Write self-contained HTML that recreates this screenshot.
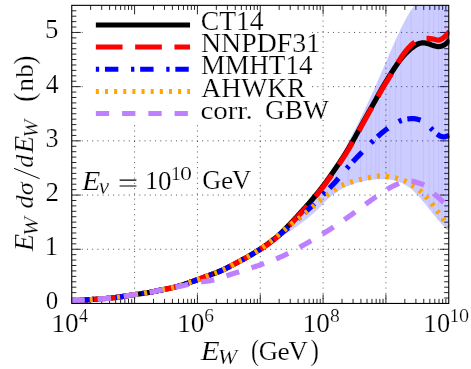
<!DOCTYPE html>
<html><head><meta charset="utf-8"><title>chart</title>
<style>html,body{margin:0;padding:0;background:#fff;}svg{display:block;will-change:transform;}text{fill:#000;stroke:#fff;stroke-width:0.22px;}</style>
</head><body>
<svg width="471" height="369" viewBox="0 0 471 369">
<rect width="471" height="369" fill="#fff"/>
<defs><clipPath id="cp"><rect x="71.75" y="5.35" width="377.80" height="298.10"/></clipPath></defs>
<g stroke="#000" stroke-opacity="0.68" stroke-width="1" stroke-dasharray="1 4.236" stroke-dashoffset="0.5"><line x1="134.58" y1="5.35" x2="134.58" y2="303.45"/><line x1="197.42" y1="5.35" x2="197.42" y2="303.45"/><line x1="260.25" y1="5.35" x2="260.25" y2="303.45"/><line x1="323.08" y1="5.35" x2="323.08" y2="303.45"/><line x1="385.92" y1="5.35" x2="385.92" y2="303.45"/><line x1="71.75" y1="249.25" x2="448.75" y2="249.25"/><line x1="71.75" y1="195.05" x2="448.75" y2="195.05"/><line x1="71.75" y1="140.85" x2="448.75" y2="140.85"/><line x1="71.75" y1="86.65" x2="448.75" y2="86.65"/><line x1="71.75" y1="32.45" x2="448.75" y2="32.45"/></g>
<rect x="84" y="5.35" width="227.3" height="118.25" fill="#fff"/>
<path d="M90.66 303.45v-4.60M90.66 5.35v4.60M101.73 303.45v-4.60M101.73 5.35v4.60M109.58 303.45v-4.60M109.58 5.35v4.60M115.67 303.45v-4.60M115.67 5.35v4.60M120.64 303.45v-4.60M120.64 5.35v4.60M124.85 303.45v-4.60M124.85 5.35v4.60M128.49 303.45v-4.60M128.49 5.35v4.60M131.71 303.45v-4.60M131.71 5.35v4.60M134.58 303.45v-9.00M134.58 5.35v9.00M153.50 303.45v-4.60M153.50 5.35v4.60M164.56 303.45v-4.60M164.56 5.35v4.60M172.41 303.45v-4.60M172.41 5.35v4.60M178.50 303.45v-4.60M178.50 5.35v4.60M183.48 303.45v-4.60M183.48 5.35v4.60M187.68 303.45v-4.60M187.68 5.35v4.60M191.33 303.45v-4.60M191.33 5.35v4.60M194.54 303.45v-4.60M194.54 5.35v4.60M197.42 303.45v-9.00M197.42 5.35v9.00M216.33 303.45v-4.60M216.33 5.35v4.60M227.40 303.45v-4.60M227.40 5.35v4.60M235.25 303.45v-4.60M235.25 5.35v4.60M241.34 303.45v-4.60M241.34 5.35v4.60M246.31 303.45v-4.60M246.31 5.35v4.60M250.52 303.45v-4.60M250.52 5.35v4.60M254.16 303.45v-4.60M254.16 5.35v4.60M257.37 303.45v-4.60M257.37 5.35v4.60M260.25 303.45v-9.00M260.25 5.35v9.00M279.16 303.45v-4.60M279.16 5.35v4.60M290.23 303.45v-4.60M290.23 5.35v4.60M298.08 303.45v-4.60M298.08 5.35v4.60M304.17 303.45v-4.60M304.17 5.35v4.60M309.14 303.45v-4.60M309.14 5.35v4.60M313.35 303.45v-4.60M313.35 5.35v4.60M316.99 303.45v-4.60M316.99 5.35v4.60M320.21 303.45v-4.60M320.21 5.35v4.60M323.08 303.45v-9.00M323.08 5.35v9.00M342.00 303.45v-4.60M342.00 5.35v4.60M353.06 303.45v-4.60M353.06 5.35v4.60M360.91 303.45v-4.60M360.91 5.35v4.60M367.00 303.45v-4.60M367.00 5.35v4.60M371.98 303.45v-4.60M371.98 5.35v4.60M376.18 303.45v-4.60M376.18 5.35v4.60M379.83 303.45v-4.60M379.83 5.35v4.60M383.04 303.45v-4.60M383.04 5.35v4.60M385.92 303.45v-9.00M385.92 5.35v9.00M404.83 303.45v-4.60M404.83 5.35v4.60M415.90 303.45v-4.60M415.90 5.35v4.60M423.75 303.45v-4.60M423.75 5.35v4.60M429.84 303.45v-4.60M429.84 5.35v4.60M434.81 303.45v-4.60M434.81 5.35v4.60M439.02 303.45v-4.60M439.02 5.35v4.60M442.66 303.45v-4.60M442.66 5.35v4.60M445.87 303.45v-4.60M445.87 5.35v4.60M71.75 298.03h4.60M448.75 298.03h-4.60M71.75 292.61h4.60M448.75 292.61h-4.60M71.75 287.19h4.60M448.75 287.19h-4.60M71.75 281.77h4.60M448.75 281.77h-4.60M71.75 276.35h4.60M448.75 276.35h-4.60M71.75 270.93h4.60M448.75 270.93h-4.60M71.75 265.51h4.60M448.75 265.51h-4.60M71.75 260.09h4.60M448.75 260.09h-4.60M71.75 254.67h4.60M448.75 254.67h-4.60M71.75 249.25h9.00M448.75 249.25h-9.00M71.75 243.83h4.60M448.75 243.83h-4.60M71.75 238.41h4.60M448.75 238.41h-4.60M71.75 232.99h4.60M448.75 232.99h-4.60M71.75 227.57h4.60M448.75 227.57h-4.60M71.75 222.15h4.60M448.75 222.15h-4.60M71.75 216.73h4.60M448.75 216.73h-4.60M71.75 211.31h4.60M448.75 211.31h-4.60M71.75 205.89h4.60M448.75 205.89h-4.60M71.75 200.47h4.60M448.75 200.47h-4.60M71.75 195.05h9.00M448.75 195.05h-9.00M71.75 189.63h4.60M448.75 189.63h-4.60M71.75 184.21h4.60M448.75 184.21h-4.60M71.75 178.79h4.60M448.75 178.79h-4.60M71.75 173.37h4.60M448.75 173.37h-4.60M71.75 167.95h4.60M448.75 167.95h-4.60M71.75 162.53h4.60M448.75 162.53h-4.60M71.75 157.11h4.60M448.75 157.11h-4.60M71.75 151.69h4.60M448.75 151.69h-4.60M71.75 146.27h4.60M448.75 146.27h-4.60M71.75 140.85h9.00M448.75 140.85h-9.00M71.75 135.43h4.60M448.75 135.43h-4.60M71.75 130.01h4.60M448.75 130.01h-4.60M71.75 124.59h4.60M448.75 124.59h-4.60M71.75 119.17h4.60M448.75 119.17h-4.60M71.75 113.75h4.60M448.75 113.75h-4.60M71.75 108.33h4.60M448.75 108.33h-4.60M71.75 102.91h4.60M448.75 102.91h-4.60M71.75 97.49h4.60M448.75 97.49h-4.60M71.75 92.07h4.60M448.75 92.07h-4.60M71.75 86.65h9.00M448.75 86.65h-9.00M71.75 81.23h4.60M448.75 81.23h-4.60M71.75 75.81h4.60M448.75 75.81h-4.60M71.75 70.39h4.60M448.75 70.39h-4.60M71.75 64.97h4.60M448.75 64.97h-4.60M71.75 59.55h4.60M448.75 59.55h-4.60M71.75 54.13h4.60M448.75 54.13h-4.60M71.75 48.71h4.60M448.75 48.71h-4.60M71.75 43.29h4.60M448.75 43.29h-4.60M71.75 37.87h4.60M448.75 37.87h-4.60M71.75 32.45h9.00M448.75 32.45h-9.00M71.75 27.03h4.60M448.75 27.03h-4.60M71.75 21.61h4.60M448.75 21.61h-4.60M71.75 16.19h4.60M448.75 16.19h-4.60M71.75 10.77h4.60M448.75 10.77h-4.60" stroke="#000" stroke-width="0.85" fill="none"/>
<g clip-path="url(#cp)">
<path d="M71.50 300.80 L72.66 300.73 L73.81 300.66 L74.97 300.59 L76.12 300.52 L77.28 300.45 L78.43 300.37 L79.59 300.30 L80.74 300.22 L81.90 300.15 L83.06 300.07 L84.21 300.00 L85.37 299.92 L86.52 299.84 L87.68 299.76 L88.83 299.68 L89.99 299.60 L91.14 299.52 L92.30 299.44 L93.45 299.36 L94.61 299.28 L95.77 299.21 L96.92 299.13 L98.08 299.05 L99.23 298.97 L100.39 298.88 L101.54 298.80 L102.70 298.71 L103.85 298.63 L105.01 298.53 L106.17 298.44 L107.32 298.34 L108.48 298.24 L109.63 298.13 L110.79 298.02 L111.94 297.90 L113.10 297.78 L114.25 297.64 L115.41 297.50 L116.57 297.34 L117.72 297.19 L118.88 297.02 L120.03 296.85 L121.19 296.68 L122.34 296.50 L123.50 296.32 L124.65 296.14 L125.81 295.96 L126.96 295.77 L128.12 295.59 L129.28 295.40 L130.43 295.22 L131.59 295.04 L132.74 294.86 L133.90 294.69 L135.05 294.52 L136.21 294.35 L137.36 294.19 L138.52 294.03 L139.68 293.87 L140.83 293.71 L141.99 293.55 L143.14 293.39 L144.30 293.22 L145.45 293.05 L146.61 292.87 L147.76 292.68 L148.92 292.49 L150.08 292.29 L151.23 292.06 L152.39 291.82 L153.54 291.57 L154.70 291.31 L155.85 291.05 L157.01 290.80 L158.16 290.56 L159.32 290.33 L160.47 290.10 L161.63 289.88 L162.79 289.66 L163.94 289.44 L165.10 289.22 L166.25 289.00 L167.41 288.77 L168.56 288.54 L169.72 288.30 L170.87 288.05 L172.03 287.79 L173.19 287.52 L174.34 287.24 L175.50 286.94 L176.65 286.63 L177.81 286.31 L178.96 285.97 L180.12 285.62 L181.27 285.27 L182.43 284.90 L183.59 284.53 L184.74 284.14 L185.90 283.75 L187.05 283.36 L188.21 282.96 L189.36 282.55 L190.52 282.15 L191.67 281.74 L192.83 281.33 L193.98 280.92 L195.14 280.50 L196.30 280.09 L197.45 279.69 L198.61 279.28 L199.76 278.86 L200.92 278.44 L202.07 278.01 L203.23 277.57 L204.38 277.14 L205.54 276.70 L206.70 276.26 L207.85 275.82 L209.01 275.38 L210.16 274.94 L211.32 274.51 L212.47 274.09 L213.63 273.67 L214.78 273.24 L215.94 272.81 L217.10 272.38 L218.25 271.92 L219.41 271.45 L220.56 270.96 L221.72 270.45 L222.87 269.92 L224.03 269.37 L225.18 268.81 L226.34 268.24 L227.49 267.66 L228.65 267.07 L229.81 266.47 L230.96 265.87 L232.12 265.26 L233.27 264.64 L234.43 264.03 L235.58 263.41 L236.74 262.79 L237.89 262.17 L239.05 261.55 L240.21 260.93 L241.36 260.30 L242.52 259.67 L243.67 259.04 L244.83 258.40 L245.98 257.76 L247.14 257.11 L248.29 256.45 L249.45 255.79 L250.61 255.11 L251.76 254.43 L252.92 253.75 L254.07 253.05 L255.23 252.34 L256.38 251.62 L257.54 250.89 L258.69 250.15 L259.85 249.40 L261.01 248.63 L262.16 247.86 L263.32 247.06 L264.47 246.26 L265.63 245.44 L266.78 244.61 L267.94 243.77 L269.09 242.91 L270.25 242.03 L271.40 241.14 L272.56 240.24 L273.72 239.32 L274.87 238.38 L276.03 237.43 L277.18 236.46 L278.34 235.47 L279.49 234.45 L280.65 233.39 L281.80 232.30 L282.96 231.18 L284.12 230.03 L285.27 228.86 L286.43 227.68 L287.58 226.50 L288.74 225.30 L289.89 224.11 L291.05 222.91 L292.20 221.70 L293.36 220.48 L294.52 219.25 L295.67 218.00 L296.83 216.74 L297.98 215.47 L299.14 214.19 L300.29 212.90 L301.45 211.60 L302.60 210.29 L303.76 208.98 L304.91 207.66 L306.07 206.32 L307.23 204.98 L308.38 203.62 L309.54 202.24 L310.69 200.85 L311.85 199.43 L313.00 198.00 L314.16 196.56 L315.31 195.10 L316.47 193.62 L317.63 192.12 L318.78 190.60 L319.94 189.06 L321.09 187.50 L322.25 185.91 L323.40 184.30 L324.56 182.66 L325.71 181.00 L326.87 179.33 L328.03 177.62 L329.18 175.90 L330.34 174.15 L331.49 172.37 L332.65 170.57 L333.80 168.75 L334.96 166.89 L336.11 165.01 L337.27 163.08 L338.42 161.11 L339.58 159.10 L340.74 157.05 L341.89 154.94 L343.05 152.78 L344.20 150.52 L345.36 148.19 L346.51 145.83 L347.67 143.47 L348.82 141.14 L349.98 138.88 L351.14 136.64 L352.29 134.43 L353.45 132.22 L354.60 130.02 L355.76 127.79 L356.91 125.55 L358.07 123.26 L359.22 120.94 L360.38 118.59 L361.54 116.22 L362.69 113.82 L363.85 111.41 L365.00 108.98 L366.16 106.54 L367.31 104.09 L368.47 101.62 L369.62 99.13 L370.78 96.62 L371.93 94.09 L373.09 91.54 L374.25 88.96 L375.40 86.36 L376.56 83.74 L377.71 81.10 L378.87 78.45 L380.02 75.79 L381.18 73.10 L382.33 70.38 L383.49 67.66 L384.65 64.94 L385.80 62.23 L386.96 59.54 L388.11 56.86 L389.27 54.18 L390.42 51.52 L391.58 48.88 L392.73 46.28 L393.89 43.69 L395.05 41.13 L396.20 38.59 L397.36 36.09 L398.51 33.63 L399.67 31.20 L400.82 28.76 L401.98 26.34 L403.13 23.95 L404.29 21.64 L405.44 19.44 L406.60 17.37 L407.76 15.43 L408.91 13.56 L410.07 11.77 L411.22 10.05 L412.38 8.40 L413.53 6.81 L414.69 5.27 L415.84 3.83 L417.00 2.50 L448.75 3.35 L448.75 231.50 L449.00 231.50 L447.74 230.39 L446.47 229.18 L445.21 227.90 L443.95 226.57 L442.69 225.19 L441.42 223.77 L440.16 222.33 L438.90 220.87 L437.64 219.39 L436.37 217.90 L435.11 216.37 L433.85 214.80 L432.59 213.21 L431.32 211.62 L430.06 210.02 L428.80 208.45 L427.54 206.90 L426.27 205.35 L425.01 203.79 L423.75 202.23 L422.49 200.69 L421.22 199.18 L419.96 197.73 L418.70 196.34 L417.44 195.02 L416.17 193.71 L414.91 192.42 L413.65 191.17 L412.39 189.98 L411.12 188.87 L409.86 187.86 L408.60 186.96 L407.34 186.16 L406.07 185.40 L404.81 184.67 L403.55 183.99 L402.29 183.35 L401.02 182.76 L399.76 182.22 L398.50 181.74 L397.24 181.30 L395.97 180.92 L394.71 180.54 L393.45 180.20 L392.19 179.92 L390.92 179.70 L389.66 179.57 L388.40 179.48 L387.14 179.39 L385.87 179.32 L384.61 179.26 L383.35 179.22 L382.09 179.20 L380.82 179.20 L379.56 179.23 L378.30 179.28 L377.04 179.36 L375.77 179.45 L374.51 179.55 L373.25 179.67 L371.98 179.80 L370.72 179.93 L369.46 180.06 L368.20 180.23 L366.93 180.43 L365.67 180.66 L364.41 180.91 L363.15 181.19 L361.88 181.49 L360.62 181.80 L359.36 182.13 L358.10 182.45 L356.83 182.80 L355.57 183.18 L354.31 183.58 L353.05 184.01 L351.78 184.46 L350.52 184.94 L349.26 185.44 L348.00 185.96 L346.73 186.51 L345.47 187.08 L344.21 187.69 L342.95 188.34 L341.68 189.04 L340.42 189.76 L339.16 190.52 L337.90 191.32 L336.63 192.14 L335.37 193.00 L334.11 193.88 L332.85 194.79 L331.58 195.75 L330.32 196.80 L329.06 197.92 L327.80 199.11 L326.53 200.35 L325.27 201.62 L324.01 202.93 L322.75 204.25 L321.48 205.58 L320.22 206.90 L318.96 208.20 L317.70 209.47 L316.43 210.70 L315.17 211.88 L313.91 212.99 L312.65 214.06 L311.38 215.12 L310.12 216.16 L308.86 217.19 L307.60 218.21 L306.33 219.22 L305.07 220.21 L303.81 221.19 L302.55 222.16 L301.28 223.12 L300.02 224.06 L298.76 225.00 L297.49 225.92 L296.23 226.84 L294.97 227.74 L293.71 228.63 L292.44 229.51 L291.18 230.38 L289.92 231.24 L288.66 232.10 L287.39 232.94 L286.13 233.76 L284.87 234.57 L283.61 235.38 L282.34 236.17 L281.08 236.95 L279.82 237.72 L278.56 238.48 L277.29 239.24 L276.03 239.99 L274.77 240.73 L273.51 241.47 L272.24 242.21 L270.98 242.94 L269.72 243.67 L268.46 244.40 L267.19 245.12 L265.93 245.85 L264.67 246.58 L263.41 247.31 L262.14 248.04 L260.88 248.78 L259.62 249.52 L258.36 250.27 L257.09 251.02 L255.83 251.77 L254.57 252.52 L253.31 253.27 L252.04 254.02 L250.78 254.76 L249.52 255.51 L248.26 256.25 L246.99 256.99 L245.73 257.73 L244.47 258.46 L243.21 259.18 L241.94 259.90 L240.68 260.62 L239.42 261.32 L238.16 262.02 L236.89 262.71 L235.63 263.38 L234.37 264.06 L233.11 264.73 L231.84 265.40 L230.58 266.07 L229.32 266.73 L228.06 267.38 L226.79 268.02 L225.53 268.64 L224.27 269.26 L223.01 269.85 L221.74 270.43 L220.48 270.99 L219.22 271.53 L217.95 272.04 L216.69 272.53 L215.43 273.00 L214.17 273.47 L212.90 273.93 L211.64 274.39 L210.38 274.86 L209.12 275.33 L207.85 275.81 L206.59 276.30 L205.33 276.78 L204.07 277.26 L202.80 277.74 L201.54 278.21 L200.28 278.67 L199.02 279.13 L197.75 279.58 L196.49 280.03 L195.23 280.47 L193.97 280.92 L192.70 281.37 L191.44 281.82 L190.18 282.27 L188.92 282.71 L187.65 283.15 L186.39 283.59 L185.13 284.01 L183.87 284.43 L182.60 284.84 L181.34 285.25 L180.08 285.64 L178.82 286.01 L177.55 286.38 L176.29 286.73 L175.03 287.06 L173.77 287.38 L172.50 287.68 L171.24 287.97 L169.98 288.24 L168.72 288.51 L167.45 288.76 L166.19 289.01 L164.93 289.25 L163.67 289.49 L162.40 289.73 L161.14 289.97 L159.88 290.22 L158.62 290.47 L157.35 290.73 L156.09 291.00 L154.83 291.28 L153.57 291.56 L152.30 291.84 L151.04 292.10 L149.78 292.34 L148.52 292.56 L147.25 292.77 L145.99 292.96 L144.73 293.16 L143.46 293.34 L142.20 293.52 L140.94 293.70 L139.68 293.87 L138.41 294.05 L137.15 294.22 L135.89 294.40 L134.63 294.58 L133.36 294.77 L132.10 294.96 L130.84 295.16 L129.58 295.36 L128.31 295.56 L127.05 295.76 L125.79 295.96 L124.53 296.16 L123.26 296.36 L122.00 296.56 L120.74 296.75 L119.48 296.93 L118.21 297.12 L116.95 297.29 L115.69 297.46 L114.43 297.62 L113.16 297.77 L111.90 297.91 L110.64 298.04 L109.38 298.16 L108.11 298.27 L106.85 298.38 L105.59 298.49 L104.33 298.59 L103.06 298.69 L101.80 298.78 L100.54 298.87 L99.28 298.96 L98.01 299.05 L96.75 299.14 L95.49 299.22 L94.23 299.31 L92.96 299.40 L91.70 299.48 L90.44 299.57 L89.18 299.66 L87.91 299.74 L86.65 299.83 L85.39 299.92 L84.13 300.00 L82.86 300.09 L81.60 300.17 L80.34 300.25 L79.08 300.33 L77.81 300.41 L76.55 300.49 L75.29 300.57 L74.03 300.65 L72.76 300.72 L71.50 300.80Z" fill="#0000ff" fill-opacity="0.2"/>
<clipPath id="bp"><path d="M71.50 300.80 L72.66 300.73 L73.81 300.66 L74.97 300.59 L76.12 300.52 L77.28 300.45 L78.43 300.37 L79.59 300.30 L80.74 300.22 L81.90 300.15 L83.06 300.07 L84.21 300.00 L85.37 299.92 L86.52 299.84 L87.68 299.76 L88.83 299.68 L89.99 299.60 L91.14 299.52 L92.30 299.44 L93.45 299.36 L94.61 299.28 L95.77 299.21 L96.92 299.13 L98.08 299.05 L99.23 298.97 L100.39 298.88 L101.54 298.80 L102.70 298.71 L103.85 298.63 L105.01 298.53 L106.17 298.44 L107.32 298.34 L108.48 298.24 L109.63 298.13 L110.79 298.02 L111.94 297.90 L113.10 297.78 L114.25 297.64 L115.41 297.50 L116.57 297.34 L117.72 297.19 L118.88 297.02 L120.03 296.85 L121.19 296.68 L122.34 296.50 L123.50 296.32 L124.65 296.14 L125.81 295.96 L126.96 295.77 L128.12 295.59 L129.28 295.40 L130.43 295.22 L131.59 295.04 L132.74 294.86 L133.90 294.69 L135.05 294.52 L136.21 294.35 L137.36 294.19 L138.52 294.03 L139.68 293.87 L140.83 293.71 L141.99 293.55 L143.14 293.39 L144.30 293.22 L145.45 293.05 L146.61 292.87 L147.76 292.68 L148.92 292.49 L150.08 292.29 L151.23 292.06 L152.39 291.82 L153.54 291.57 L154.70 291.31 L155.85 291.05 L157.01 290.80 L158.16 290.56 L159.32 290.33 L160.47 290.10 L161.63 289.88 L162.79 289.66 L163.94 289.44 L165.10 289.22 L166.25 289.00 L167.41 288.77 L168.56 288.54 L169.72 288.30 L170.87 288.05 L172.03 287.79 L173.19 287.52 L174.34 287.24 L175.50 286.94 L176.65 286.63 L177.81 286.31 L178.96 285.97 L180.12 285.62 L181.27 285.27 L182.43 284.90 L183.59 284.53 L184.74 284.14 L185.90 283.75 L187.05 283.36 L188.21 282.96 L189.36 282.55 L190.52 282.15 L191.67 281.74 L192.83 281.33 L193.98 280.92 L195.14 280.50 L196.30 280.09 L197.45 279.69 L198.61 279.28 L199.76 278.86 L200.92 278.44 L202.07 278.01 L203.23 277.57 L204.38 277.14 L205.54 276.70 L206.70 276.26 L207.85 275.82 L209.01 275.38 L210.16 274.94 L211.32 274.51 L212.47 274.09 L213.63 273.67 L214.78 273.24 L215.94 272.81 L217.10 272.38 L218.25 271.92 L219.41 271.45 L220.56 270.96 L221.72 270.45 L222.87 269.92 L224.03 269.37 L225.18 268.81 L226.34 268.24 L227.49 267.66 L228.65 267.07 L229.81 266.47 L230.96 265.87 L232.12 265.26 L233.27 264.64 L234.43 264.03 L235.58 263.41 L236.74 262.79 L237.89 262.17 L239.05 261.55 L240.21 260.93 L241.36 260.30 L242.52 259.67 L243.67 259.04 L244.83 258.40 L245.98 257.76 L247.14 257.11 L248.29 256.45 L249.45 255.79 L250.61 255.11 L251.76 254.43 L252.92 253.75 L254.07 253.05 L255.23 252.34 L256.38 251.62 L257.54 250.89 L258.69 250.15 L259.85 249.40 L261.01 248.63 L262.16 247.86 L263.32 247.06 L264.47 246.26 L265.63 245.44 L266.78 244.61 L267.94 243.77 L269.09 242.91 L270.25 242.03 L271.40 241.14 L272.56 240.24 L273.72 239.32 L274.87 238.38 L276.03 237.43 L277.18 236.46 L278.34 235.47 L279.49 234.45 L280.65 233.39 L281.80 232.30 L282.96 231.18 L284.12 230.03 L285.27 228.86 L286.43 227.68 L287.58 226.50 L288.74 225.30 L289.89 224.11 L291.05 222.91 L292.20 221.70 L293.36 220.48 L294.52 219.25 L295.67 218.00 L296.83 216.74 L297.98 215.47 L299.14 214.19 L300.29 212.90 L301.45 211.60 L302.60 210.29 L303.76 208.98 L304.91 207.66 L306.07 206.32 L307.23 204.98 L308.38 203.62 L309.54 202.24 L310.69 200.85 L311.85 199.43 L313.00 198.00 L314.16 196.56 L315.31 195.10 L316.47 193.62 L317.63 192.12 L318.78 190.60 L319.94 189.06 L321.09 187.50 L322.25 185.91 L323.40 184.30 L324.56 182.66 L325.71 181.00 L326.87 179.33 L328.03 177.62 L329.18 175.90 L330.34 174.15 L331.49 172.37 L332.65 170.57 L333.80 168.75 L334.96 166.89 L336.11 165.01 L337.27 163.08 L338.42 161.11 L339.58 159.10 L340.74 157.05 L341.89 154.94 L343.05 152.78 L344.20 150.52 L345.36 148.19 L346.51 145.83 L347.67 143.47 L348.82 141.14 L349.98 138.88 L351.14 136.64 L352.29 134.43 L353.45 132.22 L354.60 130.02 L355.76 127.79 L356.91 125.55 L358.07 123.26 L359.22 120.94 L360.38 118.59 L361.54 116.22 L362.69 113.82 L363.85 111.41 L365.00 108.98 L366.16 106.54 L367.31 104.09 L368.47 101.62 L369.62 99.13 L370.78 96.62 L371.93 94.09 L373.09 91.54 L374.25 88.96 L375.40 86.36 L376.56 83.74 L377.71 81.10 L378.87 78.45 L380.02 75.79 L381.18 73.10 L382.33 70.38 L383.49 67.66 L384.65 64.94 L385.80 62.23 L386.96 59.54 L388.11 56.86 L389.27 54.18 L390.42 51.52 L391.58 48.88 L392.73 46.28 L393.89 43.69 L395.05 41.13 L396.20 38.59 L397.36 36.09 L398.51 33.63 L399.67 31.20 L400.82 28.76 L401.98 26.34 L403.13 23.95 L404.29 21.64 L405.44 19.44 L406.60 17.37 L407.76 15.43 L408.91 13.56 L410.07 11.77 L411.22 10.05 L412.38 8.40 L413.53 6.81 L414.69 5.27 L415.84 3.83 L417.00 2.50 L448.75 3.35 L448.75 231.50 L449.00 231.50 L447.74 230.39 L446.47 229.18 L445.21 227.90 L443.95 226.57 L442.69 225.19 L441.42 223.77 L440.16 222.33 L438.90 220.87 L437.64 219.39 L436.37 217.90 L435.11 216.37 L433.85 214.80 L432.59 213.21 L431.32 211.62 L430.06 210.02 L428.80 208.45 L427.54 206.90 L426.27 205.35 L425.01 203.79 L423.75 202.23 L422.49 200.69 L421.22 199.18 L419.96 197.73 L418.70 196.34 L417.44 195.02 L416.17 193.71 L414.91 192.42 L413.65 191.17 L412.39 189.98 L411.12 188.87 L409.86 187.86 L408.60 186.96 L407.34 186.16 L406.07 185.40 L404.81 184.67 L403.55 183.99 L402.29 183.35 L401.02 182.76 L399.76 182.22 L398.50 181.74 L397.24 181.30 L395.97 180.92 L394.71 180.54 L393.45 180.20 L392.19 179.92 L390.92 179.70 L389.66 179.57 L388.40 179.48 L387.14 179.39 L385.87 179.32 L384.61 179.26 L383.35 179.22 L382.09 179.20 L380.82 179.20 L379.56 179.23 L378.30 179.28 L377.04 179.36 L375.77 179.45 L374.51 179.55 L373.25 179.67 L371.98 179.80 L370.72 179.93 L369.46 180.06 L368.20 180.23 L366.93 180.43 L365.67 180.66 L364.41 180.91 L363.15 181.19 L361.88 181.49 L360.62 181.80 L359.36 182.13 L358.10 182.45 L356.83 182.80 L355.57 183.18 L354.31 183.58 L353.05 184.01 L351.78 184.46 L350.52 184.94 L349.26 185.44 L348.00 185.96 L346.73 186.51 L345.47 187.08 L344.21 187.69 L342.95 188.34 L341.68 189.04 L340.42 189.76 L339.16 190.52 L337.90 191.32 L336.63 192.14 L335.37 193.00 L334.11 193.88 L332.85 194.79 L331.58 195.75 L330.32 196.80 L329.06 197.92 L327.80 199.11 L326.53 200.35 L325.27 201.62 L324.01 202.93 L322.75 204.25 L321.48 205.58 L320.22 206.90 L318.96 208.20 L317.70 209.47 L316.43 210.70 L315.17 211.88 L313.91 212.99 L312.65 214.06 L311.38 215.12 L310.12 216.16 L308.86 217.19 L307.60 218.21 L306.33 219.22 L305.07 220.21 L303.81 221.19 L302.55 222.16 L301.28 223.12 L300.02 224.06 L298.76 225.00 L297.49 225.92 L296.23 226.84 L294.97 227.74 L293.71 228.63 L292.44 229.51 L291.18 230.38 L289.92 231.24 L288.66 232.10 L287.39 232.94 L286.13 233.76 L284.87 234.57 L283.61 235.38 L282.34 236.17 L281.08 236.95 L279.82 237.72 L278.56 238.48 L277.29 239.24 L276.03 239.99 L274.77 240.73 L273.51 241.47 L272.24 242.21 L270.98 242.94 L269.72 243.67 L268.46 244.40 L267.19 245.12 L265.93 245.85 L264.67 246.58 L263.41 247.31 L262.14 248.04 L260.88 248.78 L259.62 249.52 L258.36 250.27 L257.09 251.02 L255.83 251.77 L254.57 252.52 L253.31 253.27 L252.04 254.02 L250.78 254.76 L249.52 255.51 L248.26 256.25 L246.99 256.99 L245.73 257.73 L244.47 258.46 L243.21 259.18 L241.94 259.90 L240.68 260.62 L239.42 261.32 L238.16 262.02 L236.89 262.71 L235.63 263.38 L234.37 264.06 L233.11 264.73 L231.84 265.40 L230.58 266.07 L229.32 266.73 L228.06 267.38 L226.79 268.02 L225.53 268.64 L224.27 269.26 L223.01 269.85 L221.74 270.43 L220.48 270.99 L219.22 271.53 L217.95 272.04 L216.69 272.53 L215.43 273.00 L214.17 273.47 L212.90 273.93 L211.64 274.39 L210.38 274.86 L209.12 275.33 L207.85 275.81 L206.59 276.30 L205.33 276.78 L204.07 277.26 L202.80 277.74 L201.54 278.21 L200.28 278.67 L199.02 279.13 L197.75 279.58 L196.49 280.03 L195.23 280.47 L193.97 280.92 L192.70 281.37 L191.44 281.82 L190.18 282.27 L188.92 282.71 L187.65 283.15 L186.39 283.59 L185.13 284.01 L183.87 284.43 L182.60 284.84 L181.34 285.25 L180.08 285.64 L178.82 286.01 L177.55 286.38 L176.29 286.73 L175.03 287.06 L173.77 287.38 L172.50 287.68 L171.24 287.97 L169.98 288.24 L168.72 288.51 L167.45 288.76 L166.19 289.01 L164.93 289.25 L163.67 289.49 L162.40 289.73 L161.14 289.97 L159.88 290.22 L158.62 290.47 L157.35 290.73 L156.09 291.00 L154.83 291.28 L153.57 291.56 L152.30 291.84 L151.04 292.10 L149.78 292.34 L148.52 292.56 L147.25 292.77 L145.99 292.96 L144.73 293.16 L143.46 293.34 L142.20 293.52 L140.94 293.70 L139.68 293.87 L138.41 294.05 L137.15 294.22 L135.89 294.40 L134.63 294.58 L133.36 294.77 L132.10 294.96 L130.84 295.16 L129.58 295.36 L128.31 295.56 L127.05 295.76 L125.79 295.96 L124.53 296.16 L123.26 296.36 L122.00 296.56 L120.74 296.75 L119.48 296.93 L118.21 297.12 L116.95 297.29 L115.69 297.46 L114.43 297.62 L113.16 297.77 L111.90 297.91 L110.64 298.04 L109.38 298.16 L108.11 298.27 L106.85 298.38 L105.59 298.49 L104.33 298.59 L103.06 298.69 L101.80 298.78 L100.54 298.87 L99.28 298.96 L98.01 299.05 L96.75 299.14 L95.49 299.22 L94.23 299.31 L92.96 299.40 L91.70 299.48 L90.44 299.57 L89.18 299.66 L87.91 299.74 L86.65 299.83 L85.39 299.92 L84.13 300.00 L82.86 300.09 L81.60 300.17 L80.34 300.25 L79.08 300.33 L77.81 300.41 L76.55 300.49 L75.29 300.57 L74.03 300.65 L72.76 300.72 L71.50 300.80Z"/></clipPath>
<g clip-path="url(#bp)" stroke="#0000ff" stroke-width="0.8" opacity="0.07"><line x1="327.1" y1="0" x2="327.1" y2="310"/><line x1="332.6" y1="0" x2="332.6" y2="310"/><line x1="338.1" y1="0" x2="338.1" y2="310"/><line x1="348.3" y1="0" x2="348.3" y2="310"/><line x1="360.6" y1="0" x2="360.6" y2="310"/><line x1="366.4" y1="0" x2="366.4" y2="310"/><line x1="371.1" y1="0" x2="371.1" y2="310"/><line x1="375.8" y1="0" x2="375.8" y2="310"/><line x1="379.0" y1="0" x2="379.0" y2="310"/><line x1="385.9" y1="0" x2="385.9" y2="310"/><line x1="389.9" y1="0" x2="389.9" y2="310"/><line x1="395.4" y1="0" x2="395.4" y2="310"/><line x1="400.9" y1="0" x2="400.9" y2="310"/><line x1="411.1" y1="0" x2="411.1" y2="310"/><line x1="423.4" y1="0" x2="423.4" y2="310"/><line x1="429.2" y1="0" x2="429.2" y2="310"/><line x1="433.9" y1="0" x2="433.9" y2="310"/><line x1="438.6" y1="0" x2="438.6" y2="310"/><line x1="441.8" y1="0" x2="441.8" y2="310"/><line x1="445.5" y1="0" x2="445.5" y2="310"/></g>
<path d="M71.50 300.80 L72.13 300.76 L72.76 300.72 L73.39 300.69 L74.02 300.65 L74.66 300.61 L75.29 300.57 L75.92 300.53 L76.55 300.49 L77.18 300.45 L77.81 300.41 L78.44 300.37 L79.07 300.33 L79.71 300.29 L80.34 300.25 L80.97 300.21 L81.60 300.17 L82.23 300.13 L82.86 300.09 L83.49 300.04 L84.12 300.00 L84.76 299.96 L85.39 299.92 L86.02 299.87 L86.65 299.83 L87.28 299.79 L87.91 299.74 L88.54 299.70 L89.17 299.66 L89.81 299.61 L90.44 299.57 L91.07 299.53 L91.70 299.48 L92.33 299.44 L92.96 299.40 L93.59 299.35 L94.22 299.31 L94.86 299.27 L95.49 299.23 L96.12 299.18 L96.75 299.14 L97.38 299.10 L98.01 299.05 L98.64 299.01 L99.27 298.96 L99.90 298.92 L100.54 298.87 L101.17 298.83 L101.80 298.78 L102.43 298.74 L103.06 298.69 L103.69 298.64 L104.32 298.59 L104.95 298.54 L105.59 298.49 L106.22 298.44 L106.85 298.38 L107.48 298.33 L108.11 298.27 L108.74 298.21 L109.37 298.16 L110.00 298.10 L110.64 298.04 L111.27 297.97 L111.90 297.91 L112.53 297.84 L113.16 297.77 L113.79 297.70 L114.42 297.62 L115.05 297.54 L115.69 297.46 L116.32 297.38 L116.95 297.29 L117.58 297.21 L118.21 297.12 L118.84 297.03 L119.47 296.94 L120.10 296.84 L120.74 296.75 L121.37 296.65 L122.00 296.56 L122.63 296.46 L123.26 296.36 L123.89 296.26 L124.52 296.16 L125.15 296.06 L125.78 295.96 L126.42 295.86 L127.05 295.76 L127.68 295.66 L128.31 295.56 L128.94 295.46 L129.57 295.36 L130.20 295.26 L130.83 295.16 L131.47 295.06 L132.10 294.96 L132.73 294.86 L133.36 294.77 L133.99 294.68 L134.62 294.58 L135.25 294.49 L135.88 294.40 L136.52 294.31 L137.15 294.22 L137.78 294.13 L138.41 294.05 L139.04 293.96 L139.67 293.87 L140.30 293.79 L140.93 293.70 L141.57 293.61 L142.20 293.52 L142.83 293.43 L143.46 293.34 L144.09 293.25 L144.72 293.16 L145.35 293.06 L145.98 292.97 L146.62 292.87 L147.25 292.77 L147.88 292.66 L148.51 292.56 L149.14 292.45 L149.77 292.34 L150.40 292.23 L151.03 292.10 L151.66 291.98 L152.30 291.84 L152.93 291.70 L153.56 291.56 L154.19 291.42 L154.82 291.28 L155.45 291.14 L156.08 291.00 L156.71 290.86 L157.35 290.73 L157.98 290.60 L158.61 290.47 L159.24 290.34 L159.87 290.22 L160.50 290.10 L161.13 289.97 L161.76 289.85 L162.40 289.73 L163.03 289.61 L163.66 289.49 L164.29 289.37 L164.92 289.25 L165.55 289.13 L166.18 289.01 L166.81 288.89 L167.45 288.76 L168.08 288.64 L168.71 288.51 L169.34 288.38 L169.97 288.25 L170.60 288.11 L171.23 287.97 L171.86 287.83 L172.49 287.69 L173.13 287.54 L173.76 287.38 L174.39 287.23 L175.02 287.07 L175.65 286.90 L176.28 286.73 L176.91 286.56 L177.54 286.38 L178.18 286.20 L178.81 286.02 L179.44 285.83 L180.07 285.64 L180.70 285.45 L181.33 285.25 L181.96 285.05 L182.59 284.85 L183.23 284.64 L183.86 284.44 L184.49 284.23 L185.12 284.02 L185.75 283.80 L186.38 283.59 L187.01 283.37 L187.64 283.15 L188.28 282.93 L188.91 282.71 L189.54 282.49 L190.17 282.27 L190.80 282.05 L191.43 281.82 L192.06 281.60 L192.69 281.38 L193.33 281.15 L193.96 280.93 L194.59 280.70 L195.22 280.48 L195.85 280.25 L196.48 280.03 L197.11 279.81 L197.74 279.58 L198.37 279.36 L199.01 279.14 L199.64 278.91 L200.27 278.68 L200.90 278.45 L201.53 278.21 L202.16 277.98 L202.79 277.74 L203.42 277.50 L204.06 277.26 L204.69 277.02 L205.32 276.78 L205.95 276.54 L206.58 276.30 L207.21 276.06 L207.84 275.82 L208.47 275.58 L209.11 275.34 L209.74 275.10 L210.37 274.86 L211.00 274.63 L211.63 274.39 L212.26 274.16 L212.89 273.93 L213.52 273.70 L214.16 273.47 L214.79 273.24 L215.42 273.01 L216.05 272.77 L216.68 272.53 L217.31 272.29 L217.94 272.04 L218.57 271.79 L219.21 271.53 L219.84 271.27 L220.47 271.00 L221.10 270.72 L221.73 270.44 L222.36 270.15 L222.99 269.86 L223.62 269.56 L224.25 269.26 L224.89 268.96 L225.52 268.65 L226.15 268.34 L226.78 268.02 L227.41 267.70 L228.04 267.38 L228.67 267.06 L229.30 266.73 L229.94 266.40 L230.57 266.07 L231.20 265.74 L231.83 265.41 L232.46 265.07 L233.09 264.74 L233.72 264.40 L234.35 264.06 L234.99 263.73 L235.62 263.39 L236.25 263.05 L236.88 262.72 L237.51 262.38 L238.14 262.04 L238.77 261.70 L239.40 261.36 L240.04 261.02 L240.67 260.68 L241.30 260.34 L241.93 260.00 L242.56 259.65 L243.19 259.30 L243.82 258.96 L244.45 258.61 L245.09 258.26 L245.72 257.91 L246.35 257.55 L246.98 257.20 L247.61 256.84 L248.24 256.48 L248.87 256.12 L249.50 255.75 L250.13 255.39 L250.77 255.02 L251.40 254.65 L252.03 254.28 L252.66 253.90 L253.29 253.52 L253.92 253.14 L254.55 252.75 L255.18 252.37 L255.82 251.98 L256.45 251.58 L257.08 251.18 L257.71 250.78 L258.34 250.38 L258.97 249.97 L259.60 249.56 L260.23 249.15 L260.87 248.73 L261.50 248.30 L262.13 247.88 L262.76 247.45 L263.39 247.01 L264.02 246.58 L264.65 246.13 L265.28 245.69 L265.92 245.24 L266.55 244.78 L267.18 244.32 L267.81 243.86 L268.44 243.40 L269.07 242.92 L269.70 242.45 L270.33 241.97 L270.97 241.48 L271.60 240.99 L272.23 240.50 L272.86 240.00 L273.49 239.50 L274.12 238.99 L274.75 238.48 L275.38 237.96 L276.01 237.44 L276.65 236.91 L277.28 236.37 L277.91 235.84 L278.54 235.29 L279.17 234.74 L279.80 234.17 L280.43 233.59 L281.06 233.00 L281.70 232.40 L282.33 231.79 L282.96 231.18 L283.59 230.55 L284.22 229.92 L284.85 229.29 L285.48 228.65 L286.11 228.00 L286.75 227.36 L287.38 226.71 L288.01 226.06 L288.64 225.40 L289.27 224.75 L289.90 224.10 L290.53 223.45 L291.16 222.79 L291.80 222.13 L292.43 221.46 L293.06 220.79 L293.69 220.11 L294.32 219.43 L294.95 218.75 L295.58 218.07 L296.21 217.38 L296.85 216.69 L297.48 216.00 L298.11 215.30 L298.74 214.61 L299.37 213.91 L300.00 213.22 L300.63 212.52 L301.26 211.83 L301.89 211.14 L302.53 210.44 L303.16 209.75 L303.79 209.05 L304.42 208.35 L305.05 207.65 L305.68 206.95 L306.31 206.25 L306.94 205.54 L307.58 204.83 L308.21 204.12 L308.84 203.40 L309.47 202.68 L310.10 201.95 L310.73 201.22 L311.36 200.48 L311.99 199.74 L312.63 199.00 L313.26 198.25 L313.89 197.49 L314.52 196.73 L315.15 195.97 L315.78 195.20 L316.41 194.43 L317.04 193.66 L317.68 192.88 L318.31 192.09 L318.94 191.30 L319.57 190.50 L320.20 189.70 L320.83 188.89 L321.46 188.08 L322.09 187.26 L322.73 186.43 L323.36 185.60 L323.99 184.76 L324.62 183.91 L325.25 183.05 L325.88 182.19 L326.51 181.32 L327.14 180.44 L327.77 179.56 L328.41 178.68 L329.04 177.79 L329.67 176.89 L330.30 175.99 L330.93 175.09 L331.56 174.18 L332.19 173.27 L332.82 172.36 L333.46 171.44 L334.09 170.52 L334.72 169.60 L335.35 168.68 L335.98 167.76 L336.61 166.83 L337.24 165.91 L337.87 164.97 L338.51 164.04 L339.14 163.10 L339.77 162.16 L340.40 161.21 L341.03 160.26 L341.66 159.30 L342.29 158.33 L342.92 157.36 L343.56 156.38 L344.19 155.40 L344.82 154.40 L345.45 153.40 L346.08 152.39 L346.71 151.37 L347.34 150.34 L347.97 149.31 L348.61 148.26 L349.24 147.21 L349.87 146.15 L350.50 145.08 L351.13 144.01 L351.76 142.92 L352.39 141.83 L353.02 140.74 L353.65 139.63 L354.29 138.52 L354.92 137.40 L355.55 136.27 L356.18 135.12 L356.81 133.95 L357.44 132.78 L358.07 131.61 L358.70 130.42 L359.34 129.24 L359.97 128.06 L360.60 126.88 L361.23 125.70 L361.86 124.54 L362.49 123.38 L363.12 122.23 L363.75 121.09 L364.39 119.95 L365.02 118.82 L365.65 117.69 L366.28 116.56 L366.91 115.43 L367.54 114.31 L368.17 113.19 L368.80 112.07 L369.44 110.94 L370.07 109.82 L370.70 108.70 L371.33 107.58 L371.96 106.45 L372.59 105.33 L373.22 104.20 L373.85 103.06 L374.48 101.93 L375.12 100.78 L375.75 99.63 L376.38 98.48 L377.01 97.32 L377.64 96.17 L378.27 95.02 L378.90 93.87 L379.53 92.73 L380.17 91.60 L380.80 90.47 L381.43 89.35 L382.06 88.25 L382.69 87.16 L383.32 86.08 L383.95 85.01 L384.58 83.94 L385.22 82.88 L385.85 81.82 L386.48 80.77 L387.11 79.73 L387.74 78.69 L388.37 77.66 L389.00 76.64 L389.63 75.63 L390.27 74.62 L390.90 73.62 L391.53 72.63 L392.16 71.65 L392.79 70.67 L393.42 69.71 L394.05 68.75 L394.68 67.79 L395.32 66.83 L395.95 65.89 L396.58 64.95 L397.21 64.03 L397.84 63.13 L398.47 62.25 L399.10 61.38 L399.73 60.55 L400.36 59.73 L401.00 58.93 L401.63 58.14 L402.26 57.37 L402.89 56.61 L403.52 55.87 L404.15 55.16 L404.78 54.46 L405.41 53.79 L406.05 53.15 L406.68 52.53 L407.31 51.93 L407.94 51.33 L408.57 50.75 L409.20 50.18 L409.83 49.63 L410.46 49.09 L411.10 48.57 L411.73 48.07 L412.36 47.58 L412.99 47.11 L413.62 46.66 L414.25 46.21 L414.88 45.77 L415.51 45.34 L416.15 44.93 L416.78 44.56 L417.41 44.24 L418.04 43.99 L418.67 43.76 L419.30 43.54 L419.93 43.33 L420.56 43.14 L421.20 42.99 L421.83 42.87 L422.46 42.81 L423.09 42.80 L423.72 42.84 L424.35 42.90 L424.98 42.99 L425.61 43.10 L426.24 43.22 L426.88 43.35 L427.51 43.49 L428.14 43.63 L428.77 43.81 L429.40 44.02 L430.03 44.27 L430.66 44.53 L431.29 44.80 L431.93 45.05 L432.56 45.27 L433.19 45.45 L433.82 45.63 L434.45 45.82 L435.08 46.00 L435.71 46.18 L436.34 46.33 L436.98 46.46 L437.61 46.55 L438.24 46.60 L438.87 46.59 L439.50 46.53 L440.13 46.43 L440.76 46.29 L441.39 46.13 L442.03 45.94 L442.66 45.75 L443.29 45.48 L443.92 45.12 L444.55 44.70 L445.18 44.24 L445.81 43.75 L446.44 43.23 L447.08 42.66 L447.71 42.02 L448.34 41.33 L448.97 40.58 L449.60 39.80" fill="none" stroke="#000000" stroke-width="5.20"/>
<path d="M71.50 300.80 L72.13 300.76 L72.76 300.72 L73.39 300.69 L74.02 300.65 L74.66 300.61 L75.29 300.57 L75.92 300.53 L76.55 300.49 L77.18 300.45 L77.81 300.41 L78.44 300.37 L79.07 300.33 L79.71 300.29 L80.34 300.25 L80.97 300.21 L81.60 300.17 L82.23 300.13 L82.86 300.09 L83.49 300.04 L84.12 300.00 L84.76 299.96 L85.39 299.92 L86.02 299.87 L86.65 299.83 L87.28 299.79 L87.91 299.74 L88.54 299.70 L89.17 299.66 L89.81 299.61 L90.44 299.57 L91.07 299.53 L91.70 299.48 L92.33 299.44 L92.96 299.40 L93.59 299.35 L94.22 299.31 L94.86 299.27 L95.49 299.23 L96.12 299.18 L96.75 299.14 L97.38 299.10 L98.01 299.05 L98.64 299.01 L99.27 298.96 L99.90 298.92 L100.54 298.87 L101.17 298.83 L101.80 298.78 L102.43 298.74 L103.06 298.69 L103.69 298.64 L104.32 298.59 L104.95 298.54 L105.59 298.49 L106.22 298.44 L106.85 298.38 L107.48 298.33 L108.11 298.27 L108.74 298.21 L109.37 298.16 L110.00 298.10 L110.64 298.04 L111.27 297.97 L111.90 297.91 L112.53 297.84 L113.16 297.77 L113.79 297.70 L114.42 297.62 L115.05 297.54 L115.69 297.46 L116.32 297.38 L116.95 297.29 L117.58 297.21 L118.21 297.12 L118.84 297.03 L119.47 296.94 L120.10 296.84 L120.74 296.75 L121.37 296.65 L122.00 296.56 L122.63 296.46 L123.26 296.36 L123.89 296.26 L124.52 296.16 L125.15 296.06 L125.78 295.96 L126.42 295.86 L127.05 295.76 L127.68 295.66 L128.31 295.56 L128.94 295.46 L129.57 295.36 L130.20 295.26 L130.83 295.16 L131.47 295.06 L132.10 294.96 L132.73 294.86 L133.36 294.77 L133.99 294.68 L134.62 294.58 L135.25 294.49 L135.88 294.40 L136.52 294.31 L137.15 294.22 L137.78 294.13 L138.41 294.05 L139.04 293.96 L139.67 293.87 L140.30 293.79 L140.93 293.70 L141.57 293.61 L142.20 293.52 L142.83 293.43 L143.46 293.34 L144.09 293.25 L144.72 293.16 L145.35 293.06 L145.98 292.97 L146.62 292.87 L147.25 292.77 L147.88 292.66 L148.51 292.56 L149.14 292.45 L149.77 292.34 L150.40 292.23 L151.03 292.10 L151.66 291.98 L152.30 291.84 L152.93 291.70 L153.56 291.56 L154.19 291.42 L154.82 291.28 L155.45 291.14 L156.08 291.00 L156.71 290.86 L157.35 290.73 L157.98 290.60 L158.61 290.47 L159.24 290.34 L159.87 290.22 L160.50 290.10 L161.13 289.97 L161.76 289.85 L162.40 289.73 L163.03 289.61 L163.66 289.49 L164.29 289.37 L164.92 289.25 L165.55 289.13 L166.18 289.01 L166.81 288.89 L167.45 288.76 L168.08 288.64 L168.71 288.51 L169.34 288.38 L169.97 288.25 L170.60 288.11 L171.23 287.97 L171.86 287.83 L172.49 287.69 L173.13 287.54 L173.76 287.38 L174.39 287.23 L175.02 287.07 L175.65 286.90 L176.28 286.73 L176.91 286.56 L177.54 286.38 L178.18 286.20 L178.81 286.02 L179.44 285.83 L180.07 285.64 L180.70 285.45 L181.33 285.25 L181.96 285.05 L182.59 284.85 L183.23 284.64 L183.86 284.44 L184.49 284.23 L185.12 284.02 L185.75 283.80 L186.38 283.59 L187.01 283.37 L187.64 283.15 L188.28 282.93 L188.91 282.71 L189.54 282.49 L190.17 282.27 L190.80 282.05 L191.43 281.82 L192.06 281.60 L192.69 281.38 L193.33 281.15 L193.96 280.93 L194.59 280.70 L195.22 280.48 L195.85 280.25 L196.48 280.03 L197.11 279.81 L197.74 279.58 L198.37 279.36 L199.01 279.14 L199.64 278.91 L200.27 278.68 L200.90 278.45 L201.53 278.21 L202.16 277.98 L202.79 277.74 L203.42 277.50 L204.06 277.26 L204.69 277.02 L205.32 276.78 L205.95 276.54 L206.58 276.30 L207.21 276.06 L207.84 275.82 L208.47 275.58 L209.11 275.34 L209.74 275.10 L210.37 274.86 L211.00 274.63 L211.63 274.39 L212.26 274.16 L212.89 273.93 L213.52 273.70 L214.16 273.47 L214.79 273.24 L215.42 273.01 L216.05 272.77 L216.68 272.53 L217.31 272.29 L217.94 272.04 L218.57 271.79 L219.21 271.53 L219.84 271.27 L220.47 271.00 L221.10 270.72 L221.73 270.44 L222.36 270.15 L222.99 269.86 L223.62 269.56 L224.25 269.26 L224.89 268.95 L225.52 268.65 L226.15 268.33 L226.78 268.02 L227.41 267.70 L228.04 267.37 L228.67 267.05 L229.30 266.72 L229.94 266.40 L230.57 266.07 L231.20 265.73 L231.83 265.40 L232.46 265.07 L233.09 264.73 L233.72 264.40 L234.35 264.07 L234.99 263.73 L235.62 263.40 L236.25 263.07 L236.88 262.74 L237.51 262.40 L238.14 262.07 L238.77 261.74 L239.40 261.41 L240.04 261.07 L240.67 260.74 L241.30 260.40 L241.93 260.07 L242.56 259.73 L243.19 259.40 L243.82 259.06 L244.45 258.72 L245.09 258.38 L245.72 258.04 L246.35 257.69 L246.98 257.35 L247.61 257.00 L248.24 256.65 L248.87 256.30 L249.50 255.95 L250.13 255.59 L250.77 255.24 L251.40 254.88 L252.03 254.52 L252.66 254.15 L253.29 253.78 L253.92 253.41 L254.55 253.04 L255.18 252.66 L255.82 252.28 L256.45 251.90 L257.08 251.51 L257.71 251.12 L258.34 250.73 L258.97 250.33 L259.60 249.93 L260.23 249.52 L260.87 249.11 L261.50 248.70 L262.13 248.29 L262.76 247.86 L263.39 247.44 L264.02 247.01 L264.65 246.58 L265.28 246.14 L265.92 245.70 L266.55 245.26 L267.18 244.81 L267.81 244.35 L268.44 243.90 L269.07 243.44 L269.70 242.97 L270.33 242.50 L270.97 242.02 L271.60 241.54 L272.23 241.06 L272.86 240.57 L273.49 240.07 L274.12 239.58 L274.75 239.07 L275.38 238.56 L276.01 238.05 L276.65 237.53 L277.28 237.01 L277.91 236.48 L278.54 235.95 L279.17 235.40 L279.80 234.84 L280.43 234.27 L281.06 233.69 L281.70 233.11 L282.33 232.51 L282.96 231.90 L283.59 231.29 L284.22 230.67 L284.85 230.04 L285.48 229.41 L286.11 228.78 L286.75 228.14 L287.38 227.50 L288.01 226.86 L288.64 226.21 L289.27 225.57 L289.90 224.93 L290.53 224.28 L291.16 223.63 L291.80 222.97 L292.43 222.31 L293.06 221.65 L293.69 220.98 L294.32 220.30 L294.95 219.62 L295.58 218.94 L296.21 218.26 L296.85 217.57 L297.48 216.88 L298.11 216.19 L298.74 215.50 L299.37 214.81 L300.00 214.12 L300.63 213.43 L301.26 212.73 L301.89 212.04 L302.53 211.35 L303.16 210.65 L303.79 209.96 L304.42 209.26 L305.05 208.56 L305.68 207.86 L306.31 207.15 L306.94 206.44 L307.58 205.73 L308.21 205.02 L308.84 204.30 L309.47 203.58 L310.10 202.85 L310.73 202.12 L311.36 201.38 L311.99 200.64 L312.63 199.90 L313.26 199.15 L313.89 198.39 L314.52 197.63 L315.15 196.87 L315.78 196.10 L316.41 195.33 L317.04 194.56 L317.68 193.78 L318.31 192.99 L318.94 192.20 L319.57 191.40 L320.20 190.60 L320.83 189.79 L321.46 188.98 L322.09 188.16 L322.73 187.33 L323.36 186.50 L323.99 185.66 L324.62 184.81 L325.25 183.95 L325.88 183.09 L326.51 182.22 L327.14 181.34 L327.77 180.46 L328.41 179.58 L329.04 178.69 L329.67 177.79 L330.30 176.89 L330.93 175.99 L331.56 175.08 L332.19 174.17 L332.82 173.26 L333.46 172.34 L334.09 171.42 L334.72 170.50 L335.35 169.58 L335.98 168.66 L336.61 167.73 L337.24 166.81 L337.87 165.87 L338.51 164.94 L339.14 164.00 L339.77 163.06 L340.40 162.11 L341.03 161.16 L341.66 160.20 L342.29 159.23 L342.92 158.26 L343.56 157.28 L344.19 156.30 L344.82 155.30 L345.45 154.30 L346.08 153.29 L346.71 152.27 L347.34 151.24 L347.97 150.21 L348.61 149.16 L349.24 148.11 L349.87 147.05 L350.50 145.98 L351.13 144.91 L351.76 143.82 L352.39 142.73 L353.02 141.64 L353.65 140.53 L354.29 139.42 L354.92 138.30 L355.55 137.17 L356.18 136.02 L356.81 134.85 L357.44 133.68 L358.07 132.51 L358.70 131.32 L359.34 130.14 L359.97 128.96 L360.60 127.78 L361.23 126.60 L361.86 125.44 L362.49 124.28 L363.12 123.13 L363.75 121.99 L364.39 120.85 L365.02 119.72 L365.65 118.59 L366.28 117.46 L366.91 116.33 L367.54 115.21 L368.17 114.09 L368.80 112.97 L369.44 111.84 L370.07 110.72 L370.70 109.60 L371.33 108.48 L371.96 107.35 L372.59 106.23 L373.22 105.10 L373.85 103.96 L374.48 102.83 L375.12 101.68 L375.75 100.53 L376.38 99.38 L377.01 98.22 L377.64 97.07 L378.27 95.92 L378.90 94.77 L379.53 93.63 L380.17 92.50 L380.80 91.37 L381.43 90.25 L382.06 89.15 L382.69 88.06 L383.32 86.98 L383.95 85.92 L384.58 84.87 L385.22 83.84 L385.85 82.81 L386.48 81.79 L387.11 80.78 L387.74 79.77 L388.37 78.77 L389.00 77.76 L389.63 76.75 L390.27 75.74 L390.90 74.72 L391.53 73.70 L392.16 72.66 L392.79 71.62 L393.42 70.56 L394.05 69.47 L394.68 68.36 L395.32 67.24 L395.95 66.11 L396.58 64.98 L397.21 63.86 L397.84 62.76 L398.47 61.68 L399.10 60.63 L399.73 59.61 L400.36 58.64 L401.00 57.68 L401.63 56.73 L402.26 55.80 L402.89 54.89 L403.52 54.00 L404.15 53.14 L404.78 52.31 L405.41 51.51 L406.05 50.75 L406.68 50.00 L407.31 49.27 L407.94 48.54 L408.57 47.83 L409.20 47.14 L409.83 46.46 L410.46 45.81 L411.10 45.19 L411.73 44.60 L412.36 44.05 L412.99 43.53 L413.62 43.06 L414.25 42.61 L414.88 42.17 L415.51 41.75 L416.15 41.34 L416.78 40.95 L417.41 40.60 L418.04 40.27 L418.67 39.98 L419.30 39.73 L419.93 39.52 L420.56 39.34 L421.20 39.17 L421.83 39.00 L422.46 38.84 L423.09 38.70 L423.72 38.57 L424.35 38.47 L424.98 38.38 L425.61 38.33 L426.24 38.30 L426.88 38.31 L427.51 38.33 L428.14 38.37 L428.77 38.43 L429.40 38.50 L430.03 38.58 L430.66 38.66 L431.29 38.75 L431.93 38.84 L432.56 38.92 L433.19 39.03 L433.82 39.18 L434.45 39.34 L435.08 39.50 L435.71 39.67 L436.34 39.82 L436.98 39.95 L437.61 40.05 L438.24 40.09 L438.87 40.08 L439.50 39.96 L440.13 39.75 L440.76 39.47 L441.39 39.12 L442.03 38.73 L442.66 38.31 L443.29 37.88 L443.92 37.44 L444.55 36.90 L445.18 36.26 L445.81 35.56 L446.44 34.84 L447.08 34.13 L447.71 33.46 L448.34 32.78 L448.97 32.09 L449.60 31.40" fill="none" stroke="#ff0000" stroke-width="5.20" stroke-dasharray="26.7 12.6" stroke-dashoffset="0"/>
<path d="M71.50 300.80 L72.13 300.76 L72.76 300.72 L73.39 300.69 L74.02 300.65 L74.66 300.61 L75.29 300.57 L75.92 300.53 L76.55 300.49 L77.18 300.45 L77.81 300.41 L78.44 300.37 L79.07 300.33 L79.71 300.29 L80.34 300.25 L80.97 300.21 L81.60 300.17 L82.23 300.13 L82.86 300.09 L83.49 300.04 L84.12 300.00 L84.76 299.96 L85.39 299.92 L86.02 299.87 L86.65 299.83 L87.28 299.79 L87.91 299.74 L88.54 299.70 L89.17 299.66 L89.81 299.61 L90.44 299.57 L91.07 299.53 L91.70 299.48 L92.33 299.44 L92.96 299.40 L93.59 299.35 L94.22 299.31 L94.86 299.27 L95.49 299.23 L96.12 299.18 L96.75 299.14 L97.38 299.10 L98.01 299.05 L98.64 299.01 L99.27 298.96 L99.90 298.92 L100.54 298.87 L101.17 298.83 L101.80 298.78 L102.43 298.74 L103.06 298.69 L103.69 298.64 L104.32 298.59 L104.95 298.54 L105.59 298.49 L106.22 298.44 L106.85 298.38 L107.48 298.33 L108.11 298.27 L108.74 298.21 L109.37 298.16 L110.00 298.10 L110.64 298.04 L111.27 297.97 L111.90 297.91 L112.53 297.84 L113.16 297.77 L113.79 297.70 L114.42 297.62 L115.05 297.54 L115.69 297.46 L116.32 297.38 L116.95 297.29 L117.58 297.21 L118.21 297.12 L118.84 297.03 L119.47 296.94 L120.10 296.84 L120.74 296.75 L121.37 296.65 L122.00 296.56 L122.63 296.46 L123.26 296.36 L123.89 296.26 L124.52 296.16 L125.15 296.06 L125.78 295.96 L126.42 295.86 L127.05 295.76 L127.68 295.66 L128.31 295.56 L128.94 295.46 L129.57 295.36 L130.20 295.26 L130.83 295.16 L131.47 295.06 L132.10 294.96 L132.73 294.86 L133.36 294.77 L133.99 294.68 L134.62 294.58 L135.25 294.49 L135.88 294.40 L136.52 294.31 L137.15 294.22 L137.78 294.13 L138.41 294.05 L139.04 293.96 L139.67 293.87 L140.30 293.79 L140.93 293.70 L141.57 293.61 L142.20 293.52 L142.83 293.43 L143.46 293.34 L144.09 293.25 L144.72 293.16 L145.35 293.06 L145.98 292.97 L146.62 292.87 L147.25 292.77 L147.88 292.66 L148.51 292.56 L149.14 292.45 L149.77 292.34 L150.40 292.23 L151.03 292.10 L151.66 291.98 L152.30 291.84 L152.93 291.70 L153.56 291.56 L154.19 291.42 L154.82 291.28 L155.45 291.14 L156.08 291.00 L156.71 290.86 L157.35 290.73 L157.98 290.60 L158.61 290.47 L159.24 290.34 L159.87 290.22 L160.50 290.10 L161.13 289.97 L161.76 289.85 L162.40 289.73 L163.03 289.61 L163.66 289.49 L164.29 289.37 L164.92 289.25 L165.55 289.13 L166.18 289.01 L166.81 288.89 L167.45 288.76 L168.08 288.64 L168.71 288.51 L169.34 288.38 L169.97 288.25 L170.60 288.11 L171.23 287.97 L171.86 287.83 L172.49 287.69 L173.13 287.54 L173.76 287.38 L174.39 287.23 L175.02 287.07 L175.65 286.90 L176.28 286.73 L176.91 286.56 L177.54 286.38 L178.18 286.20 L178.81 286.02 L179.44 285.83 L180.07 285.64 L180.70 285.45 L181.33 285.25 L181.96 285.05 L182.59 284.85 L183.23 284.64 L183.86 284.44 L184.49 284.23 L185.12 284.02 L185.75 283.80 L186.38 283.59 L187.01 283.37 L187.64 283.15 L188.28 282.93 L188.91 282.71 L189.54 282.49 L190.17 282.27 L190.80 282.05 L191.43 281.82 L192.06 281.60 L192.69 281.38 L193.33 281.15 L193.96 280.93 L194.59 280.70 L195.22 280.48 L195.85 280.25 L196.48 280.03 L197.11 279.81 L197.74 279.58 L198.37 279.36 L199.01 279.14 L199.64 278.91 L200.27 278.68 L200.90 278.45 L201.53 278.21 L202.16 277.98 L202.79 277.74 L203.42 277.50 L204.06 277.26 L204.69 277.02 L205.32 276.78 L205.95 276.54 L206.58 276.30 L207.21 276.06 L207.84 275.82 L208.47 275.58 L209.11 275.34 L209.74 275.10 L210.37 274.86 L211.00 274.63 L211.63 274.39 L212.26 274.16 L212.89 273.93 L213.52 273.70 L214.16 273.47 L214.79 273.24 L215.42 273.01 L216.05 272.77 L216.68 272.53 L217.31 272.29 L217.94 272.04 L218.57 271.79 L219.21 271.53 L219.84 271.27 L220.47 271.00 L221.10 270.72 L221.73 270.44 L222.36 270.15 L222.99 269.86 L223.62 269.56 L224.25 269.26 L224.89 268.96 L225.52 268.65 L226.15 268.34 L226.78 268.02 L227.41 267.70 L228.04 267.38 L228.67 267.06 L229.30 266.73 L229.94 266.40 L230.57 266.07 L231.20 265.74 L231.83 265.41 L232.46 265.07 L233.09 264.74 L233.72 264.40 L234.35 264.06 L234.99 263.73 L235.62 263.39 L236.25 263.05 L236.88 262.72 L237.51 262.38 L238.14 262.04 L238.77 261.70 L239.40 261.36 L240.04 261.02 L240.67 260.68 L241.30 260.34 L241.93 259.99 L242.56 259.65 L243.19 259.30 L243.82 258.95 L244.45 258.60 L245.09 258.25 L245.72 257.90 L246.35 257.55 L246.98 257.19 L247.61 256.83 L248.24 256.47 L248.87 256.11 L249.50 255.75 L250.13 255.38 L250.77 255.01 L251.40 254.64 L252.03 254.27 L252.66 253.89 L253.29 253.51 L253.92 253.13 L254.55 252.75 L255.18 252.36 L255.82 251.97 L256.45 251.58 L257.08 251.18 L257.71 250.78 L258.34 250.38 L258.97 249.97 L259.60 249.56 L260.23 249.15 L260.87 248.73 L261.50 248.31 L262.13 247.88 L262.76 247.45 L263.39 247.02 L264.02 246.58 L264.65 246.14 L265.28 245.70 L265.92 245.25 L266.55 244.80 L267.18 244.34 L267.81 243.88 L268.44 243.42 L269.07 242.96 L269.70 242.49 L270.33 242.02 L270.97 241.55 L271.60 241.07 L272.23 240.59 L272.86 240.11 L273.49 239.62 L274.12 239.13 L274.75 238.64 L275.38 238.15 L276.01 237.66 L276.65 237.16 L277.28 236.66 L277.91 236.16 L278.54 235.65 L279.17 235.15 L279.80 234.64 L280.43 234.13 L281.06 233.61 L281.70 233.10 L282.33 232.58 L282.96 232.07 L283.59 231.55 L284.22 231.03 L284.85 230.50 L285.48 229.98 L286.11 229.46 L286.75 228.93 L287.38 228.40 L288.01 227.87 L288.64 227.33 L289.27 226.79 L289.90 226.24 L290.53 225.68 L291.16 225.12 L291.80 224.55 L292.43 223.98 L293.06 223.40 L293.69 222.83 L294.32 222.25 L294.95 221.66 L295.58 221.08 L296.21 220.50 L296.85 219.91 L297.48 219.33 L298.11 218.74 L298.74 218.16 L299.37 217.58 L300.00 217.00 L300.63 216.42 L301.26 215.85 L301.89 215.27 L302.53 214.70 L303.16 214.12 L303.79 213.55 L304.42 212.97 L305.05 212.39 L305.68 211.81 L306.31 211.23 L306.94 210.65 L307.58 210.06 L308.21 209.47 L308.84 208.88 L309.47 208.28 L310.10 207.68 L310.73 207.08 L311.36 206.47 L311.99 205.86 L312.63 205.24 L313.26 204.63 L313.89 204.01 L314.52 203.38 L315.15 202.76 L315.78 202.13 L316.41 201.50 L317.04 200.87 L317.68 200.23 L318.31 199.60 L318.94 198.96 L319.57 198.32 L320.20 197.68 L320.83 197.04 L321.46 196.40 L322.09 195.75 L322.73 195.11 L323.36 194.47 L323.99 193.82 L324.62 193.18 L325.25 192.54 L325.88 191.89 L326.51 191.25 L327.14 190.61 L327.77 189.97 L328.41 189.32 L329.04 188.67 L329.67 188.02 L330.30 187.37 L330.93 186.71 L331.56 186.05 L332.19 185.38 L332.82 184.71 L333.46 184.03 L334.09 183.34 L334.72 182.65 L335.35 181.94 L335.98 181.22 L336.61 180.50 L337.24 179.76 L337.87 179.02 L338.51 178.27 L339.14 177.52 L339.77 176.76 L340.40 176.00 L341.03 175.23 L341.66 174.47 L342.29 173.71 L342.92 172.94 L343.56 172.18 L344.19 171.43 L344.82 170.68 L345.45 169.93 L346.08 169.19 L346.71 168.46 L347.34 167.74 L347.97 167.03 L348.61 166.33 L349.24 165.63 L349.87 164.94 L350.50 164.25 L351.13 163.57 L351.76 162.89 L352.39 162.21 L353.02 161.54 L353.65 160.87 L354.29 160.21 L354.92 159.54 L355.55 158.88 L356.18 158.22 L356.81 157.56 L357.44 156.90 L358.07 156.24 L358.70 155.58 L359.34 154.92 L359.97 154.25 L360.60 153.59 L361.23 152.93 L361.86 152.27 L362.49 151.61 L363.12 150.95 L363.75 150.29 L364.39 149.63 L365.02 148.97 L365.65 148.32 L366.28 147.67 L366.91 147.02 L367.54 146.38 L368.17 145.74 L368.80 145.10 L369.44 144.47 L370.07 143.84 L370.70 143.22 L371.33 142.60 L371.96 141.99 L372.59 141.39 L373.22 140.79 L373.85 140.19 L374.48 139.60 L375.12 139.00 L375.75 138.41 L376.38 137.82 L377.01 137.24 L377.64 136.66 L378.27 136.08 L378.90 135.51 L379.53 134.95 L380.17 134.39 L380.80 133.84 L381.43 133.30 L382.06 132.77 L382.69 132.24 L383.32 131.73 L383.95 131.23 L384.58 130.73 L385.22 130.25 L385.85 129.76 L386.48 129.28 L387.11 128.81 L387.74 128.33 L388.37 127.87 L389.00 127.41 L389.63 126.96 L390.27 126.52 L390.90 126.09 L391.53 125.67 L392.16 125.26 L392.79 124.87 L393.42 124.48 L394.05 124.12 L394.68 123.77 L395.32 123.43 L395.95 123.09 L396.58 122.75 L397.21 122.41 L397.84 122.07 L398.47 121.74 L399.10 121.41 L399.73 121.10 L400.36 120.80 L401.00 120.51 L401.63 120.25 L402.26 120.01 L402.89 119.79 L403.52 119.61 L404.15 119.45 L404.78 119.33 L405.41 119.24 L406.05 119.16 L406.68 119.07 L407.31 118.99 L407.94 118.92 L408.57 118.85 L409.20 118.79 L409.83 118.73 L410.46 118.69 L411.10 118.65 L411.73 118.62 L412.36 118.61 L412.99 118.60 L413.62 118.61 L414.25 118.66 L414.88 118.73 L415.51 118.82 L416.15 118.94 L416.78 119.08 L417.41 119.24 L418.04 119.42 L418.67 119.61 L419.30 119.82 L419.93 120.03 L420.56 120.26 L421.20 120.49 L421.83 120.73 L422.46 121.00 L423.09 121.34 L423.72 121.75 L424.35 122.21 L424.98 122.72 L425.61 123.26 L426.24 123.82 L426.88 124.39 L427.51 124.96 L428.14 125.52 L428.77 126.11 L429.40 126.73 L430.03 127.38 L430.66 128.04 L431.29 128.70 L431.93 129.34 L432.56 129.96 L433.19 130.56 L433.82 131.16 L434.45 131.77 L435.08 132.36 L435.71 132.94 L436.34 133.49 L436.98 134.00 L437.61 134.47 L438.24 134.90 L438.87 135.33 L439.50 135.72 L440.13 136.07 L440.76 136.33 L441.39 136.50 L442.03 136.66 L442.66 136.79 L443.29 136.88 L443.92 136.90 L444.55 136.83 L445.18 136.69 L445.81 136.51 L446.44 136.32 L447.08 136.10 L447.71 135.84 L448.34 135.53 L448.97 135.18 L449.60 134.80" fill="none" stroke="#0000ff" stroke-width="5.20" stroke-dasharray="3.3 5.8 13.4 12.7" stroke-dashoffset="0"/>
<path d="M71.50 300.80 L72.13 300.76 L72.76 300.72 L73.39 300.69 L74.02 300.65 L74.65 300.61 L75.28 300.57 L75.91 300.53 L76.54 300.49 L77.17 300.45 L77.80 300.41 L78.43 300.37 L79.06 300.33 L79.69 300.29 L80.32 300.25 L80.95 300.21 L81.58 300.17 L82.21 300.13 L82.84 300.09 L83.47 300.05 L84.10 300.00 L84.73 299.96 L85.36 299.92 L85.99 299.88 L86.63 299.83 L87.26 299.79 L87.89 299.75 L88.52 299.70 L89.15 299.66 L89.78 299.62 L90.41 299.57 L91.04 299.53 L91.67 299.48 L92.30 299.44 L92.93 299.40 L93.56 299.36 L94.19 299.31 L94.82 299.27 L95.45 299.23 L96.08 299.18 L96.71 299.14 L97.34 299.10 L97.97 299.06 L98.60 299.01 L99.23 298.97 L99.86 298.92 L100.49 298.88 L101.12 298.83 L101.75 298.79 L102.38 298.74 L103.01 298.69 L103.64 298.64 L104.27 298.59 L104.90 298.54 L105.53 298.49 L106.16 298.44 L106.79 298.39 L107.42 298.33 L108.05 298.28 L108.68 298.22 L109.31 298.16 L109.94 298.10 L110.57 298.04 L111.20 297.98 L111.83 297.91 L112.46 297.85 L113.09 297.78 L113.72 297.70 L114.35 297.63 L114.98 297.55 L115.62 297.47 L116.25 297.39 L116.88 297.30 L117.51 297.22 L118.14 297.13 L118.77 297.04 L119.40 296.95 L120.03 296.85 L120.66 296.76 L121.29 296.66 L121.92 296.57 L122.55 296.47 L123.18 296.37 L123.81 296.27 L124.44 296.17 L125.07 296.07 L125.70 295.97 L126.33 295.87 L126.96 295.77 L127.59 295.67 L128.22 295.57 L128.85 295.47 L129.48 295.37 L130.11 295.27 L130.74 295.17 L131.37 295.07 L132.00 294.98 L132.63 294.88 L133.26 294.78 L133.89 294.69 L134.52 294.60 L135.15 294.51 L135.78 294.41 L136.41 294.33 L137.04 294.24 L137.67 294.15 L138.30 294.06 L138.93 293.97 L139.56 293.89 L140.19 293.80 L140.82 293.71 L141.45 293.63 L142.08 293.54 L142.71 293.45 L143.34 293.36 L143.97 293.27 L144.61 293.17 L145.24 293.08 L145.87 292.98 L146.50 292.89 L147.13 292.79 L147.76 292.68 L148.39 292.58 L149.02 292.47 L149.65 292.36 L150.28 292.25 L150.91 292.13 L151.54 292.00 L152.17 291.87 L152.80 291.73 L153.43 291.59 L154.06 291.45 L154.69 291.31 L155.32 291.17 L155.95 291.03 L156.58 290.89 L157.21 290.76 L157.84 290.63 L158.47 290.50 L159.10 290.37 L159.73 290.25 L160.36 290.12 L160.99 290.00 L161.62 289.88 L162.25 289.76 L162.88 289.64 L163.51 289.52 L164.14 289.40 L164.77 289.28 L165.40 289.16 L166.03 289.04 L166.66 288.92 L167.29 288.79 L167.92 288.67 L168.55 288.54 L169.18 288.41 L169.81 288.28 L170.44 288.14 L171.07 288.01 L171.70 287.87 L172.33 287.72 L172.96 287.58 L173.60 287.42 L174.23 287.27 L174.86 287.11 L175.49 286.95 L176.12 286.78 L176.75 286.61 L177.38 286.43 L178.01 286.25 L178.64 286.07 L179.27 285.88 L179.90 285.69 L180.53 285.50 L181.16 285.30 L181.79 285.11 L182.42 284.90 L183.05 284.70 L183.68 284.49 L184.31 284.29 L184.94 284.08 L185.57 283.86 L186.20 283.65 L186.83 283.43 L187.46 283.22 L188.09 283.00 L188.72 282.78 L189.35 282.56 L189.98 282.34 L190.61 282.11 L191.24 281.89 L191.87 281.67 L192.50 281.44 L193.13 281.22 L193.76 281.00 L194.39 280.77 L195.02 280.55 L195.65 280.32 L196.28 280.10 L196.91 279.88 L197.54 279.65 L198.17 279.43 L198.80 279.21 L199.43 278.98 L200.06 278.75 L200.69 278.52 L201.32 278.29 L201.95 278.05 L202.59 277.82 L203.22 277.58 L203.85 277.34 L204.48 277.10 L205.11 276.86 L205.74 276.62 L206.37 276.38 L207.00 276.14 L207.63 275.90 L208.26 275.66 L208.89 275.42 L209.52 275.18 L210.15 274.94 L210.78 274.71 L211.41 274.48 L212.04 274.24 L212.67 274.01 L213.30 273.79 L213.93 273.56 L214.56 273.33 L215.19 273.09 L215.82 272.86 L216.45 272.62 L217.08 272.38 L217.71 272.14 L218.34 271.89 L218.97 271.63 L219.60 271.37 L220.23 271.10 L220.86 270.83 L221.49 270.55 L222.12 270.26 L222.75 269.97 L223.38 269.68 L224.01 269.38 L224.64 269.08 L225.27 268.77 L225.90 268.46 L226.53 268.15 L227.16 267.83 L227.79 267.51 L228.42 267.19 L229.05 266.86 L229.68 266.53 L230.31 266.21 L230.94 265.87 L231.58 265.54 L232.21 265.21 L232.84 264.87 L233.47 264.54 L234.10 264.20 L234.73 263.87 L235.36 263.53 L235.99 263.19 L236.62 262.86 L237.25 262.52 L237.88 262.18 L238.51 261.85 L239.14 261.51 L239.77 261.17 L240.40 260.83 L241.03 260.49 L241.66 260.15 L242.29 259.81 L242.92 259.47 L243.55 259.12 L244.18 258.78 L244.81 258.43 L245.44 258.08 L246.07 257.73 L246.70 257.38 L247.33 257.02 L247.96 256.66 L248.59 256.30 L249.22 255.94 L249.85 255.58 L250.48 255.21 L251.11 254.84 L251.74 254.47 L252.37 254.10 L253.00 253.72 L253.63 253.34 L254.26 252.96 L254.89 252.57 L255.52 252.18 L256.15 251.79 L256.78 251.39 L257.41 250.99 L258.04 250.58 L258.67 250.17 L259.30 249.76 L259.93 249.34 L260.57 248.92 L261.20 248.49 L261.83 248.06 L262.46 247.61 L263.09 247.16 L263.72 246.71 L264.35 246.25 L264.98 245.78 L265.61 245.31 L266.24 244.84 L266.87 244.36 L267.50 243.87 L268.13 243.38 L268.76 242.89 L269.39 242.39 L270.02 241.89 L270.65 241.38 L271.28 240.87 L271.91 240.36 L272.54 239.84 L273.17 239.33 L273.80 238.81 L274.43 238.28 L275.06 237.76 L275.69 237.23 L276.32 236.71 L276.95 236.18 L277.58 235.65 L278.21 235.11 L278.84 234.58 L279.47 234.05 L280.10 233.52 L280.73 232.98 L281.36 232.45 L281.99 231.92 L282.62 231.38 L283.25 230.85 L283.88 230.32 L284.51 229.79 L285.14 229.26 L285.77 228.74 L286.40 228.21 L287.03 227.69 L287.66 227.17 L288.29 226.65 L288.92 226.14 L289.56 225.63 L290.19 225.12 L290.82 224.61 L291.45 224.11 L292.08 223.61 L292.71 223.12 L293.34 222.63 L293.97 222.14 L294.60 221.66 L295.23 221.18 L295.86 220.70 L296.49 220.22 L297.12 219.74 L297.75 219.26 L298.38 218.77 L299.01 218.28 L299.64 217.79 L300.27 217.29 L300.90 216.78 L301.53 216.27 L302.16 215.75 L302.79 215.23 L303.42 214.71 L304.05 214.19 L304.68 213.66 L305.31 213.13 L305.94 212.61 L306.57 212.08 L307.20 211.55 L307.83 211.02 L308.46 210.48 L309.09 209.95 L309.72 209.41 L310.35 208.87 L310.98 208.33 L311.61 207.79 L312.24 207.25 L312.87 206.71 L313.50 206.17 L314.13 205.63 L314.76 205.08 L315.39 204.53 L316.02 203.98 L316.65 203.42 L317.28 202.87 L317.91 202.33 L318.55 201.78 L319.18 201.25 L319.81 200.72 L320.44 200.21 L321.07 199.71 L321.70 199.22 L322.33 198.74 L322.96 198.26 L323.59 197.79 L324.22 197.32 L324.85 196.86 L325.48 196.40 L326.11 195.95 L326.74 195.50 L327.37 195.05 L328.00 194.60 L328.63 194.15 L329.26 193.71 L329.89 193.26 L330.52 192.82 L331.15 192.38 L331.78 191.95 L332.41 191.52 L333.04 191.09 L333.67 190.67 L334.30 190.25 L334.93 189.84 L335.56 189.43 L336.19 189.02 L336.82 188.60 L337.45 188.19 L338.08 187.77 L338.71 187.36 L339.34 186.96 L339.97 186.57 L340.60 186.20 L341.23 185.84 L341.86 185.50 L342.49 185.19 L343.12 184.90 L343.75 184.63 L344.38 184.37 L345.01 184.12 L345.64 183.89 L346.27 183.66 L346.90 183.44 L347.54 183.23 L348.17 183.02 L348.80 182.81 L349.43 182.62 L350.06 182.42 L350.69 182.22 L351.32 182.03 L351.95 181.83 L352.58 181.64 L353.21 181.45 L353.84 181.26 L354.47 181.08 L355.10 180.90 L355.73 180.72 L356.36 180.55 L356.99 180.37 L357.62 180.21 L358.25 180.04 L358.88 179.88 L359.51 179.72 L360.14 179.57 L360.77 179.41 L361.40 179.26 L362.03 179.11 L362.66 178.96 L363.29 178.82 L363.92 178.67 L364.55 178.53 L365.18 178.40 L365.81 178.26 L366.44 178.13 L367.07 178.00 L367.70 177.88 L368.33 177.76 L368.96 177.64 L369.59 177.53 L370.22 177.41 L370.85 177.28 L371.48 177.16 L372.11 177.03 L372.74 176.90 L373.37 176.78 L374.00 176.67 L374.63 176.56 L375.26 176.46 L375.89 176.37 L376.53 176.30 L377.16 176.25 L377.79 176.21 L378.42 176.20 L379.05 176.20 L379.68 176.21 L380.31 176.22 L380.94 176.24 L381.57 176.26 L382.20 176.28 L382.83 176.31 L383.46 176.34 L384.09 176.38 L384.72 176.42 L385.35 176.45 L385.98 176.50 L386.61 176.54 L387.24 176.58 L387.87 176.63 L388.50 176.69 L389.13 176.76 L389.76 176.84 L390.39 176.93 L391.02 177.03 L391.65 177.14 L392.28 177.25 L392.91 177.37 L393.54 177.50 L394.17 177.63 L394.80 177.76 L395.43 177.90 L396.06 178.04 L396.69 178.18 L397.32 178.33 L397.95 178.49 L398.58 178.66 L399.21 178.84 L399.84 179.03 L400.47 179.22 L401.10 179.43 L401.73 179.64 L402.36 179.86 L402.99 180.10 L403.62 180.34 L404.25 180.59 L404.88 180.85 L405.52 181.13 L406.15 181.44 L406.78 181.78 L407.41 182.15 L408.04 182.54 L408.67 182.94 L409.30 183.36 L409.93 183.78 L410.56 184.21 L411.19 184.65 L411.82 185.08 L412.45 185.50 L413.08 185.91 L413.71 186.33 L414.34 186.74 L414.97 187.16 L415.60 187.58 L416.23 188.01 L416.86 188.44 L417.49 188.89 L418.12 189.35 L418.75 189.82 L419.38 190.31 L420.01 190.83 L420.64 191.36 L421.27 191.92 L421.90 192.51 L422.53 193.12 L423.16 193.75 L423.79 194.40 L424.42 195.06 L425.05 195.73 L425.68 196.41 L426.31 197.10 L426.94 197.79 L427.57 198.49 L428.20 199.21 L428.83 199.94 L429.46 200.69 L430.09 201.45 L430.72 202.22 L431.35 203.01 L431.98 203.80 L432.61 204.60 L433.24 205.43 L433.87 206.28 L434.51 207.15 L435.14 208.03 L435.77 208.91 L436.40 209.79 L437.03 210.67 L437.66 211.54 L438.29 212.40 L438.92 213.26 L439.55 214.12 L440.18 214.98 L440.81 215.84 L441.44 216.70 L442.07 217.56 L442.70 218.42 L443.33 219.27 L443.96 220.13 L444.59 220.99 L445.22 221.85 L445.85 222.71 L446.48 223.57 L447.11 224.43 L447.74 225.28 L448.37 226.14 L449.00 227.00" fill="none" stroke="#ffa500" stroke-width="5.20" stroke-dasharray="3.0 6.14" stroke-dashoffset="0"/>
<path d="M71.50 300.80 L72.13 300.76 L72.76 300.72 L73.39 300.69 L74.02 300.65 L74.65 300.61 L75.28 300.57 L75.91 300.53 L76.54 300.49 L77.17 300.45 L77.80 300.41 L78.43 300.37 L79.06 300.33 L79.69 300.29 L80.32 300.25 L80.95 300.21 L81.58 300.17 L82.21 300.13 L82.84 300.09 L83.47 300.05 L84.10 300.00 L84.73 299.96 L85.36 299.92 L85.99 299.88 L86.63 299.83 L87.26 299.79 L87.89 299.75 L88.52 299.70 L89.15 299.66 L89.78 299.62 L90.41 299.57 L91.04 299.53 L91.67 299.48 L92.30 299.44 L92.93 299.40 L93.56 299.36 L94.19 299.31 L94.82 299.27 L95.45 299.23 L96.08 299.18 L96.71 299.14 L97.34 299.10 L97.97 299.06 L98.60 299.01 L99.23 298.97 L99.86 298.92 L100.49 298.88 L101.12 298.83 L101.75 298.79 L102.38 298.74 L103.01 298.69 L103.64 298.64 L104.27 298.59 L104.90 298.54 L105.53 298.49 L106.16 298.44 L106.79 298.39 L107.42 298.33 L108.05 298.28 L108.68 298.22 L109.31 298.16 L109.94 298.10 L110.57 298.04 L111.20 297.98 L111.83 297.91 L112.46 297.85 L113.09 297.78 L113.72 297.70 L114.35 297.63 L114.98 297.55 L115.62 297.47 L116.25 297.39 L116.88 297.30 L117.51 297.22 L118.14 297.13 L118.77 297.04 L119.40 296.95 L120.03 296.85 L120.66 296.76 L121.29 296.66 L121.92 296.57 L122.55 296.47 L123.18 296.37 L123.81 296.27 L124.44 296.17 L125.07 296.07 L125.70 295.97 L126.33 295.87 L126.96 295.77 L127.59 295.67 L128.22 295.57 L128.85 295.47 L129.48 295.37 L130.11 295.27 L130.74 295.17 L131.37 295.07 L132.00 294.98 L132.63 294.88 L133.26 294.78 L133.89 294.69 L134.52 294.60 L135.15 294.51 L135.78 294.41 L136.41 294.33 L137.04 294.24 L137.67 294.15 L138.30 294.06 L138.93 293.97 L139.56 293.89 L140.19 293.80 L140.82 293.71 L141.45 293.63 L142.08 293.54 L142.71 293.45 L143.34 293.36 L143.97 293.27 L144.61 293.17 L145.24 293.08 L145.87 292.98 L146.50 292.89 L147.13 292.79 L147.76 292.68 L148.39 292.58 L149.02 292.47 L149.65 292.36 L150.28 292.25 L150.91 292.13 L151.54 292.00 L152.17 291.87 L152.80 291.73 L153.43 291.59 L154.06 291.45 L154.69 291.31 L155.32 291.17 L155.95 291.03 L156.58 290.89 L157.21 290.76 L157.84 290.62 L158.47 290.49 L159.10 290.36 L159.73 290.22 L160.36 290.09 L160.99 289.96 L161.62 289.82 L162.25 289.69 L162.88 289.56 L163.51 289.42 L164.14 289.29 L164.77 289.16 L165.40 289.03 L166.03 288.90 L166.66 288.77 L167.29 288.64 L167.92 288.51 L168.55 288.38 L169.18 288.25 L169.81 288.13 L170.44 288.00 L171.07 287.88 L171.70 287.76 L172.33 287.63 L172.96 287.51 L173.60 287.39 L174.23 287.28 L174.86 287.16 L175.49 287.05 L176.12 286.95 L176.75 286.84 L177.38 286.74 L178.01 286.64 L178.64 286.53 L179.27 286.42 L179.90 286.31 L180.53 286.19 L181.16 286.07 L181.79 285.94 L182.42 285.79 L183.05 285.65 L183.68 285.49 L184.31 285.33 L184.94 285.16 L185.57 284.99 L186.20 284.81 L186.83 284.63 L187.46 284.45 L188.09 284.27 L188.72 284.09 L189.35 283.91 L189.98 283.73 L190.61 283.55 L191.24 283.38 L191.87 283.21 L192.50 283.05 L193.13 282.89 L193.76 282.74 L194.39 282.59 L195.02 282.46 L195.65 282.33 L196.28 282.22 L196.91 282.11 L197.54 282.02 L198.17 281.94 L198.80 281.87 L199.43 281.80 L200.06 281.74 L200.69 281.68 L201.32 281.63 L201.95 281.58 L202.59 281.53 L203.22 281.49 L203.85 281.44 L204.48 281.39 L205.11 281.34 L205.74 281.28 L206.37 281.22 L207.00 281.16 L207.63 281.09 L208.26 281.01 L208.89 280.92 L209.52 280.82 L210.15 280.71 L210.78 280.59 L211.41 280.46 L212.04 280.33 L212.67 280.18 L213.30 280.03 L213.93 279.87 L214.56 279.71 L215.19 279.54 L215.82 279.36 L216.45 279.18 L217.08 278.99 L217.71 278.79 L218.34 278.59 L218.97 278.39 L219.60 278.19 L220.23 277.98 L220.86 277.76 L221.49 277.55 L222.12 277.33 L222.75 277.11 L223.38 276.89 L224.01 276.67 L224.64 276.45 L225.27 276.23 L225.90 276.01 L226.53 275.79 L227.16 275.57 L227.79 275.35 L228.42 275.13 L229.05 274.92 L229.68 274.71 L230.31 274.50 L230.94 274.30 L231.58 274.09 L232.21 273.90 L232.84 273.70 L233.47 273.51 L234.10 273.32 L234.73 273.12 L235.36 272.93 L235.99 272.73 L236.62 272.54 L237.25 272.35 L237.88 272.15 L238.51 271.96 L239.14 271.76 L239.77 271.57 L240.40 271.37 L241.03 271.18 L241.66 270.98 L242.29 270.79 L242.92 270.59 L243.55 270.39 L244.18 270.19 L244.81 269.99 L245.44 269.79 L246.07 269.60 L246.70 269.39 L247.33 269.19 L247.96 268.99 L248.59 268.79 L249.22 268.58 L249.85 268.38 L250.48 268.17 L251.11 267.97 L251.74 267.76 L252.37 267.55 L253.00 267.34 L253.63 267.13 L254.26 266.92 L254.89 266.70 L255.52 266.49 L256.15 266.27 L256.78 266.05 L257.41 265.83 L258.04 265.61 L258.67 265.39 L259.30 265.17 L259.93 264.95 L260.57 264.73 L261.20 264.51 L261.83 264.28 L262.46 264.06 L263.09 263.83 L263.72 263.61 L264.35 263.38 L264.98 263.15 L265.61 262.92 L266.24 262.69 L266.87 262.46 L267.50 262.23 L268.13 261.99 L268.76 261.76 L269.39 261.52 L270.02 261.28 L270.65 261.04 L271.28 260.80 L271.91 260.56 L272.54 260.31 L273.17 260.06 L273.80 259.81 L274.43 259.56 L275.06 259.31 L275.69 259.06 L276.32 258.80 L276.95 258.54 L277.58 258.28 L278.21 258.01 L278.84 257.74 L279.47 257.47 L280.10 257.20 L280.73 256.93 L281.36 256.65 L281.99 256.37 L282.62 256.08 L283.25 255.79 L283.88 255.50 L284.51 255.20 L285.14 254.89 L285.77 254.59 L286.40 254.27 L287.03 253.96 L287.66 253.64 L288.29 253.32 L288.92 252.99 L289.56 252.66 L290.19 252.33 L290.82 252.00 L291.45 251.66 L292.08 251.33 L292.71 250.99 L293.34 250.65 L293.97 250.30 L294.60 249.96 L295.23 249.62 L295.86 249.27 L296.49 248.93 L297.12 248.58 L297.75 248.23 L298.38 247.89 L299.01 247.54 L299.64 247.20 L300.27 246.85 L300.90 246.51 L301.53 246.16 L302.16 245.82 L302.79 245.47 L303.42 245.12 L304.05 244.77 L304.68 244.42 L305.31 244.07 L305.94 243.72 L306.57 243.36 L307.20 243.01 L307.83 242.65 L308.46 242.30 L309.09 241.94 L309.72 241.58 L310.35 241.22 L310.98 240.86 L311.61 240.50 L312.24 240.13 L312.87 239.77 L313.50 239.40 L314.13 239.04 L314.76 238.67 L315.39 238.30 L316.02 237.93 L316.65 237.56 L317.28 237.18 L317.91 236.81 L318.55 236.43 L319.18 236.05 L319.81 235.68 L320.44 235.30 L321.07 234.91 L321.70 234.53 L322.33 234.15 L322.96 233.76 L323.59 233.37 L324.22 232.99 L324.85 232.59 L325.48 232.20 L326.11 231.81 L326.74 231.41 L327.37 231.02 L328.00 230.62 L328.63 230.21 L329.26 229.81 L329.89 229.41 L330.52 229.00 L331.15 228.59 L331.78 228.18 L332.41 227.77 L333.04 227.36 L333.67 226.94 L334.30 226.53 L334.93 226.11 L335.56 225.69 L336.19 225.27 L336.82 224.85 L337.45 224.42 L338.08 224.00 L338.71 223.57 L339.34 223.15 L339.97 222.72 L340.60 222.29 L341.23 221.86 L341.86 221.42 L342.49 220.99 L343.12 220.56 L343.75 220.12 L344.38 219.68 L345.01 219.25 L345.64 218.81 L346.27 218.37 L346.90 217.93 L347.54 217.49 L348.17 217.05 L348.80 216.60 L349.43 216.16 L350.06 215.71 L350.69 215.26 L351.32 214.80 L351.95 214.34 L352.58 213.88 L353.21 213.42 L353.84 212.95 L354.47 212.48 L355.10 212.01 L355.73 211.54 L356.36 211.07 L356.99 210.60 L357.62 210.12 L358.25 209.65 L358.88 209.18 L359.51 208.70 L360.14 208.23 L360.77 207.75 L361.40 207.28 L362.03 206.81 L362.66 206.34 L363.29 205.87 L363.92 205.40 L364.55 204.94 L365.18 204.48 L365.81 204.02 L366.44 203.56 L367.07 203.10 L367.70 202.65 L368.33 202.20 L368.96 201.75 L369.59 201.29 L370.22 200.84 L370.85 200.39 L371.48 199.95 L372.11 199.50 L372.74 199.05 L373.37 198.61 L374.00 198.16 L374.63 197.72 L375.26 197.28 L375.89 196.84 L376.53 196.40 L377.16 195.96 L377.79 195.52 L378.42 195.09 L379.05 194.65 L379.68 194.22 L380.31 193.79 L380.94 193.36 L381.57 192.92 L382.20 192.49 L382.83 192.06 L383.46 191.63 L384.09 191.21 L384.72 190.80 L385.35 190.39 L385.98 190.00 L386.61 189.61 L387.24 189.23 L387.87 188.86 L388.50 188.49 L389.13 188.13 L389.76 187.78 L390.39 187.43 L391.02 187.10 L391.65 186.78 L392.28 186.46 L392.91 186.16 L393.54 185.86 L394.17 185.57 L394.80 185.28 L395.43 185.01 L396.06 184.73 L396.69 184.47 L397.32 184.20 L397.95 183.94 L398.58 183.69 L399.21 183.43 L399.84 183.17 L400.47 182.89 L401.10 182.62 L401.73 182.36 L402.36 182.11 L402.99 181.87 L403.62 181.66 L404.25 181.47 L404.88 181.32 L405.52 181.20 L406.15 181.07 L406.78 180.96 L407.41 180.87 L408.04 180.81 L408.67 180.80 L409.30 180.83 L409.93 180.89 L410.56 180.97 L411.19 181.06 L411.82 181.15 L412.45 181.26 L413.08 181.39 L413.71 181.54 L414.34 181.70 L414.97 181.87 L415.60 182.06 L416.23 182.25 L416.86 182.45 L417.49 182.64 L418.12 182.84 L418.75 183.03 L419.38 183.22 L420.01 183.42 L420.64 183.62 L421.27 183.83 L421.90 184.06 L422.53 184.30 L423.16 184.56 L423.79 184.85 L424.42 185.16 L425.05 185.52 L425.68 185.95 L426.31 186.45 L426.94 187.01 L427.57 187.61 L428.20 188.24 L428.83 188.89 L429.46 189.56 L430.09 190.23 L430.72 190.89 L431.35 191.52 L431.98 192.13 L432.61 192.70 L433.24 193.24 L433.87 193.77 L434.51 194.29 L435.14 194.81 L435.77 195.32 L436.40 195.84 L437.03 196.37 L437.66 196.90 L438.29 197.45 L438.92 198.02 L439.55 198.59 L440.18 199.17 L440.81 199.76 L441.44 200.35 L442.07 200.94 L442.70 201.52 L443.33 202.10 L443.96 202.66 L444.59 203.22 L445.22 203.77 L445.85 204.32 L446.48 204.86 L447.11 205.40 L447.74 205.94 L448.37 206.47 L449.00 207.00" fill="none" stroke="#bf80ff" stroke-width="5.20" stroke-dasharray="13.3 12.94" stroke-dashoffset="0"/>
</g>
<rect x="71.75" y="5.35" width="377.00" height="298.10" fill="none" stroke="#000" stroke-width="1.1"/>
<path d="M95.85 24.90H190.05" stroke="#000000" stroke-width="5.00" fill="none"/>
<path d="M95.85 47.00H190.05" stroke="#ff0000" stroke-width="5.00" stroke-dasharray="26.7 12.6" fill="none"/>
<path d="M95.85 69.30H190.05" stroke="#0000ff" stroke-width="5.00" stroke-dasharray="3.3 5.8 13.4 12.7" fill="none"/>
<path d="M95.85 91.50H190.05" stroke="#ffa500" stroke-width="5.00" stroke-dasharray="3.0 6.14" fill="none"/>
<path d="M95.85 113.40H190.05" stroke="#bf80ff" stroke-width="5.00" stroke-dasharray="13.3 12.94" fill="none"/>
<text transform="translate(200.69 30.00) scale(1.0643 1.0334)" font-family="Liberation Serif, serif" font-size="26" xml:space="preserve">CT14</text>
<text transform="translate(200.96 52.20) scale(1.0712 1.0392)" font-family="Liberation Serif, serif" font-size="26" xml:space="preserve">NNPDF31</text>
<text transform="translate(200.99 74.30) scale(1.0439 1.0431)" font-family="Liberation Serif, serif" font-size="26" xml:space="preserve">MMHT14</text>
<text transform="translate(201.32 96.60) scale(1.0614 1.0373)" font-family="Liberation Serif, serif" font-size="26" xml:space="preserve">AHWKR</text>
<text transform="translate(200.41 118.60) scale(1.1183 0.9574)" font-family="Liberation Serif, serif" font-size="26" xml:space="preserve">corr.</text>
<text transform="translate(265.01 118.60) scale(1.0502 1.0392)" font-family="Liberation Serif, serif" font-size="26" xml:space="preserve">GBW</text>
<text transform="translate(45.76 309.49) scale(0.9593 1.0085)" font-family="Liberation Serif, serif" font-size="26" xml:space="preserve">0</text>
<text transform="translate(44.87 255.25) scale(1.0256 1.0140)" font-family="Liberation Serif, serif" font-size="26" xml:space="preserve">1</text>
<text transform="translate(45.58 201.05) scale(1.0385 1.0102)" font-family="Liberation Serif, serif" font-size="26" xml:space="preserve">2</text>
<text transform="translate(45.56 146.89) scale(1.0070 1.0123)" font-family="Liberation Serif, serif" font-size="26" xml:space="preserve">3</text>
<text transform="translate(45.78 92.65) scale(0.9926 1.0178)" font-family="Liberation Serif, serif" font-size="26" xml:space="preserve">4</text>
<text transform="translate(45.06 38.48) scale(1.0320 1.0237)" font-family="Liberation Serif, serif" font-size="26" xml:space="preserve">5</text>
<text transform="translate(51.22 331.60) scale(1.0693 1.0023)" font-family="Liberation Serif, serif" font-size="26" xml:space="preserve">1</text>
<text transform="translate(65.03 331.74) scale(1.0498 1.0142)" font-family="Liberation Serif, serif" font-size="26" xml:space="preserve">0</text>
<text transform="translate(79.09 322.00) scale(0.9807 1.0529)" font-family="Liberation Serif, serif" font-size="18.2" xml:space="preserve">4</text>
<text transform="translate(176.88 331.60) scale(1.0693 1.0023)" font-family="Liberation Serif, serif" font-size="26" xml:space="preserve">1</text>
<text transform="translate(190.69 331.74) scale(1.0498 1.0142)" font-family="Liberation Serif, serif" font-size="26" xml:space="preserve">0</text>
<text transform="translate(204.29 322.00) scale(1.0668 1.0450)" font-family="Liberation Serif, serif" font-size="18.2" xml:space="preserve">6</text>
<text transform="translate(302.55 331.60) scale(1.0693 1.0023)" font-family="Liberation Serif, serif" font-size="26" xml:space="preserve">1</text>
<text transform="translate(316.36 331.74) scale(1.0498 1.0142)" font-family="Liberation Serif, serif" font-size="26" xml:space="preserve">0</text>
<text transform="translate(330.05 322.00) scale(1.0730 1.0411)" font-family="Liberation Serif, serif" font-size="18.2" xml:space="preserve">8</text>
<text transform="translate(423.22 331.60) scale(1.0475 1.0023)" font-family="Liberation Serif, serif" font-size="26" xml:space="preserve">1</text>
<text transform="translate(437.01 331.74) scale(1.0136 1.0142)" font-family="Liberation Serif, serif" font-size="26" xml:space="preserve">0</text>
<text transform="translate(449.86 322.00) scale(1.0288 1.0323)" font-family="Liberation Serif, serif" font-size="18.2" xml:space="preserve">1</text>
<text transform="translate(458.94 322.11) scale(1.1118 1.0501)" font-family="Liberation Serif, serif" font-size="18.2" xml:space="preserve">0</text>
<text transform="translate(200.79 359.60) scale(1.1903 1.0452)" font-family="Liberation Serif, serif" font-size="26" font-style="italic" xml:space="preserve">E</text>
<text transform="translate(217.83 364.00) scale(1.2821 1.1157)" font-family="Liberation Serif, serif" font-size="18.2" font-style="italic" xml:space="preserve">W</text>
<text transform="translate(251.02 359.71) scale(0.9201 1.1019)" font-family="Liberation Serif, serif" font-size="26" xml:space="preserve">(</text>
<text transform="translate(258.83 359.50) scale(1.0296 1.0740)" font-family="Liberation Serif, serif" font-size="26" xml:space="preserve">G</text>
<text transform="translate(277.50 359.50) scale(1.0603 0.9574)" font-family="Liberation Serif, serif" font-size="26" xml:space="preserve">e</text>
<text transform="translate(288.53 359.50) scale(1.0275 1.0393)" font-family="Liberation Serif, serif" font-size="26" xml:space="preserve">V</text>
<text transform="translate(310.38 359.71) scale(0.9709 1.1019)" font-family="Liberation Serif, serif" font-size="26" xml:space="preserve">)</text>
<text transform="translate(81.88 189.60) scale(1.1586 1.0335)" font-family="Liberation Serif, serif" font-size="26" font-style="italic" xml:space="preserve">E</text>
<text transform="translate(98.65 193.60) scale(1.2778 1.2781)" font-family="Liberation Serif, serif" font-size="18.2" font-style="italic" xml:space="preserve">ν</text>
<path d="M119.6 180.1H136.4M119.6 185.9H136.4" stroke="#000" stroke-width="1.05" fill="none"/>
<text transform="translate(145.37 189.40) scale(0.9820 1.0023)" font-family="Liberation Serif, serif" font-size="26" xml:space="preserve">1</text>
<text transform="translate(158.09 189.54) scale(1.0407 1.0142)" font-family="Liberation Serif, serif" font-size="26" xml:space="preserve">0</text>
<text transform="translate(170.89 180.20) scale(1.0755 1.0323)" font-family="Liberation Serif, serif" font-size="18.2" xml:space="preserve">1</text>
<text transform="translate(179.90 180.31) scale(1.3187 1.0501)" font-family="Liberation Serif, serif" font-size="18.2" xml:space="preserve">0</text>
<text transform="translate(202.15 189.40) scale(1.0118 1.0450)" font-family="Liberation Serif, serif" font-size="26" xml:space="preserve">G</text>
<text transform="translate(220.90 189.40) scale(1.0603 0.9493)" font-family="Liberation Serif, serif" font-size="26" xml:space="preserve">e</text>
<text transform="translate(231.93 189.40) scale(1.0220 1.0335)" font-family="Liberation Serif, serif" font-size="26" xml:space="preserve">V</text>
<g transform="translate(33.30 252) rotate(-90)"><text transform="translate(0.66 0.00) scale(1.0953 1.0452)" font-family="Liberation Serif, serif" font-size="26" font-style="italic" xml:space="preserve">E</text><text transform="translate(16.05 4.60) scale(1.2624 1.1241)" font-family="Liberation Serif, serif" font-size="18.2" font-style="italic" xml:space="preserve">W</text><text transform="translate(43.41 0.00) scale(1.0094 0.9961)" font-family="Liberation Serif, serif" font-size="26" font-style="italic" xml:space="preserve">d</text><text transform="translate(56.81 0.00) scale(1.0101 0.8473)" font-family="Liberation Serif, serif" font-size="26" font-style="italic" xml:space="preserve">σ</text><path d="M73.4 6.3L83.6 -19.2" stroke="#000" stroke-width="1.0" fill="none"/><text transform="translate(84.22 0.00) scale(1.0012 0.9961)" font-family="Liberation Serif, serif" font-size="26" font-style="italic" xml:space="preserve">d</text><text transform="translate(98.66 0.00) scale(1.0953 1.0452)" font-family="Liberation Serif, serif" font-size="26" font-style="italic" xml:space="preserve">E</text><text transform="translate(114.13 4.60) scale(1.1970 1.1241)" font-family="Liberation Serif, serif" font-size="18.2" font-style="italic" xml:space="preserve">W</text><text transform="translate(150.01 0.47) scale(1.1011 1.1104)" font-family="Liberation Serif, serif" font-size="26" xml:space="preserve">(</text><text transform="translate(160.40 0.00) scale(1.0312 0.9411)" font-family="Liberation Serif, serif" font-size="26" xml:space="preserve">n</text><text transform="translate(174.20 0.00) scale(1.0312 0.9961)" font-family="Liberation Serif, serif" font-size="26" xml:space="preserve">b</text><text transform="translate(187.29 0.47) scale(1.0754 1.1104)" font-family="Liberation Serif, serif" font-size="26" xml:space="preserve">)</text></g>
</svg>
</body></html>
